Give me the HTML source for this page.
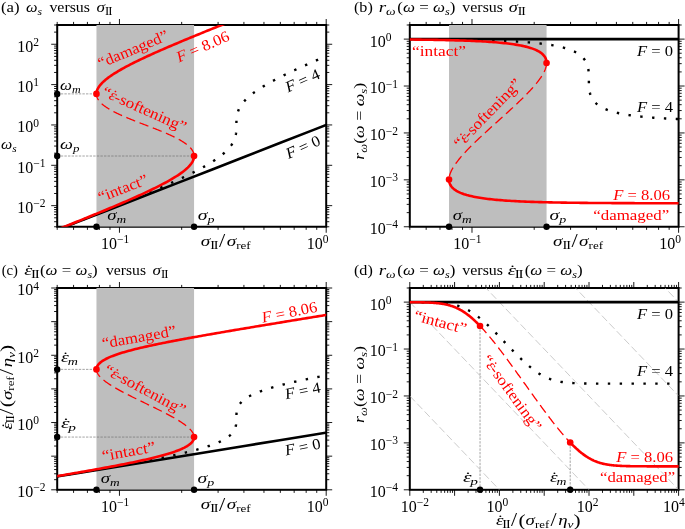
<!DOCTYPE html>
<html lang="en"><head><meta charset="utf-8"><title>Steady-state damage figure</title>
<style>html,body{margin:0;padding:0;background:#fff;}svg{display:block;}text{font-family:'Liberation Serif', 'DejaVu Serif', serif;}</style></head><body>
<svg width="685" height="529" viewBox="0 0 685 529">
<rect x="0" y="0" width="685" height="529" fill="#fff"/>
<defs>
<clipPath id="cla"><rect x="57.20" y="25.00" width="269.00" height="201.75"/></clipPath>
<clipPath id="clb"><rect x="409.80" y="25.00" width="268.80" height="201.75"/></clipPath>
<clipPath id="clc"><rect x="57.20" y="288.00" width="269.00" height="201.80"/></clipPath>
<clipPath id="cld"><rect x="409.80" y="288.00" width="268.80" height="201.80"/></clipPath>
</defs>
<path d="M119.44 226.75 v6.00 M119.44 25.00 v-6.00 M326.20 226.75 v6.00 M326.20 25.00 v-6.00 M57.20 226.75 v3.10 M57.20 25.00 v-3.10 M73.57 226.75 v3.10 M73.57 25.00 v-3.10 M87.41 226.75 v3.10 M87.41 25.00 v-3.10 M99.40 226.75 v3.10 M99.40 25.00 v-3.10 M109.98 226.75 v3.10 M109.98 25.00 v-3.10 M181.68 226.75 v3.10 M181.68 25.00 v-3.10 M218.09 226.75 v3.10 M218.09 25.00 v-3.10 M243.92 226.75 v3.10 M243.92 25.00 v-3.10 M263.96 226.75 v3.10 M263.96 25.00 v-3.10 M280.33 226.75 v3.10 M280.33 25.00 v-3.10 M294.17 226.75 v3.10 M294.17 25.00 v-3.10 M306.16 226.75 v3.10 M306.16 25.00 v-3.10 M316.74 226.75 v3.10 M316.74 25.00 v-3.10 M57.20 205.65 h-6.00 M326.20 205.65 h6.00 M57.20 165.30 h-6.00 M326.20 165.30 h6.00 M57.20 124.95 h-6.00 M326.20 124.95 h6.00 M57.20 84.60 h-6.00 M326.20 84.60 h6.00 M57.20 44.25 h-6.00 M326.20 44.25 h6.00 M57.20 226.75 h-3.10 M326.20 226.75 h3.10 M57.20 221.71 h-3.10 M326.20 221.71 h3.10 M57.20 217.80 h-3.10 M326.20 217.80 h3.10 M57.20 214.60 h-3.10 M326.20 214.60 h3.10 M57.20 211.90 h-3.10 M326.20 211.90 h3.10 M57.20 209.56 h-3.10 M326.20 209.56 h3.10 M57.20 207.50 h-3.10 M326.20 207.50 h3.10 M57.20 193.51 h-3.10 M326.20 193.51 h3.10 M57.20 186.40 h-3.10 M326.20 186.40 h3.10 M57.20 181.36 h-3.10 M326.20 181.36 h3.10 M57.20 177.45 h-3.10 M326.20 177.45 h3.10 M57.20 174.25 h-3.10 M326.20 174.25 h3.10 M57.20 171.55 h-3.10 M326.20 171.55 h3.10 M57.20 169.21 h-3.10 M326.20 169.21 h3.10 M57.20 167.15 h-3.10 M326.20 167.15 h3.10 M57.20 153.16 h-3.10 M326.20 153.16 h3.10 M57.20 146.05 h-3.10 M326.20 146.05 h3.10 M57.20 141.01 h-3.10 M326.20 141.01 h3.10 M57.20 137.10 h-3.10 M326.20 137.10 h3.10 M57.20 133.90 h-3.10 M326.20 133.90 h3.10 M57.20 131.20 h-3.10 M326.20 131.20 h3.10 M57.20 128.86 h-3.10 M326.20 128.86 h3.10 M57.20 126.80 h-3.10 M326.20 126.80 h3.10 M57.20 112.81 h-3.10 M326.20 112.81 h3.10 M57.20 105.70 h-3.10 M326.20 105.70 h3.10 M57.20 100.66 h-3.10 M326.20 100.66 h3.10 M57.20 96.75 h-3.10 M326.20 96.75 h3.10 M57.20 93.55 h-3.10 M326.20 93.55 h3.10 M57.20 90.85 h-3.10 M326.20 90.85 h3.10 M57.20 88.51 h-3.10 M326.20 88.51 h3.10 M57.20 86.45 h-3.10 M326.20 86.45 h3.10 M57.20 72.46 h-3.10 M326.20 72.46 h3.10 M57.20 65.35 h-3.10 M326.20 65.35 h3.10 M57.20 60.31 h-3.10 M326.20 60.31 h3.10 M57.20 56.40 h-3.10 M326.20 56.40 h3.10 M57.20 53.20 h-3.10 M326.20 53.20 h3.10 M57.20 50.50 h-3.10 M326.20 50.50 h3.10 M57.20 48.16 h-3.10 M326.20 48.16 h3.10 M57.20 46.10 h-3.10 M326.20 46.10 h3.10 M57.20 32.11 h-3.10 M326.20 32.11 h3.10 M57.20 25.00 h-3.10 M326.20 25.00 h3.10" stroke="#000" stroke-width="0.90" fill="none"/>
<rect x="57.20" y="25.00" width="269.00" height="201.75" fill="none" stroke="#000" stroke-width="2.00"/>
<path d="M471.99 226.75 v6.00 M471.99 25.00 v-6.00 M678.60 226.75 v6.00 M678.60 25.00 v-6.00 M409.80 226.75 v3.10 M409.80 25.00 v-3.10 M426.16 226.75 v3.10 M426.16 25.00 v-3.10 M439.99 226.75 v3.10 M439.99 25.00 v-3.10 M451.97 226.75 v3.10 M451.97 25.00 v-3.10 M462.54 226.75 v3.10 M462.54 25.00 v-3.10 M534.19 226.75 v3.10 M534.19 25.00 v-3.10 M570.57 226.75 v3.10 M570.57 25.00 v-3.10 M596.38 226.75 v3.10 M596.38 25.00 v-3.10 M616.41 226.75 v3.10 M616.41 25.00 v-3.10 M632.76 226.75 v3.10 M632.76 25.00 v-3.10 M646.60 226.75 v3.10 M646.60 25.00 v-3.10 M658.58 226.75 v3.10 M658.58 25.00 v-3.10 M669.15 226.75 v3.10 M669.15 25.00 v-3.10 M409.80 226.75 h-6.00 M678.60 226.75 h6.00 M409.80 179.84 h-6.00 M678.60 179.84 h6.00 M409.80 132.94 h-6.00 M678.60 132.94 h6.00 M409.80 86.03 h-6.00 M678.60 86.03 h6.00 M409.80 39.12 h-6.00 M678.60 39.12 h6.00 M409.80 212.63 h-3.10 M678.60 212.63 h3.10 M409.80 204.37 h-3.10 M678.60 204.37 h3.10 M409.80 198.51 h-3.10 M678.60 198.51 h3.10 M409.80 193.96 h-3.10 M678.60 193.96 h3.10 M409.80 190.25 h-3.10 M678.60 190.25 h3.10 M409.80 187.11 h-3.10 M678.60 187.11 h3.10 M409.80 184.39 h-3.10 M678.60 184.39 h3.10 M409.80 181.99 h-3.10 M678.60 181.99 h3.10 M409.80 165.72 h-3.10 M678.60 165.72 h3.10 M409.80 157.46 h-3.10 M678.60 157.46 h3.10 M409.80 151.60 h-3.10 M678.60 151.60 h3.10 M409.80 147.06 h-3.10 M678.60 147.06 h3.10 M409.80 143.34 h-3.10 M678.60 143.34 h3.10 M409.80 140.20 h-3.10 M678.60 140.20 h3.10 M409.80 137.48 h-3.10 M678.60 137.48 h3.10 M409.80 135.08 h-3.10 M678.60 135.08 h3.10 M409.80 118.81 h-3.10 M678.60 118.81 h3.10 M409.80 110.55 h-3.10 M678.60 110.55 h3.10 M409.80 104.69 h-3.10 M678.60 104.69 h3.10 M409.80 100.15 h-3.10 M678.60 100.15 h3.10 M409.80 96.43 h-3.10 M678.60 96.43 h3.10 M409.80 93.29 h-3.10 M678.60 93.29 h3.10 M409.80 90.57 h-3.10 M678.60 90.57 h3.10 M409.80 88.17 h-3.10 M678.60 88.17 h3.10 M409.80 71.91 h-3.10 M678.60 71.91 h3.10 M409.80 63.65 h-3.10 M678.60 63.65 h3.10 M409.80 57.79 h-3.10 M678.60 57.79 h3.10 M409.80 53.24 h-3.10 M678.60 53.24 h3.10 M409.80 49.53 h-3.10 M678.60 49.53 h3.10 M409.80 46.39 h-3.10 M678.60 46.39 h3.10 M409.80 43.67 h-3.10 M678.60 43.67 h3.10 M409.80 41.27 h-3.10 M678.60 41.27 h3.10 M409.80 25.00 h-3.10 M678.60 25.00 h3.10" stroke="#000" stroke-width="0.90" fill="none"/>
<rect x="409.80" y="25.00" width="268.80" height="201.75" fill="none" stroke="#000" stroke-width="2.00"/>
<path d="M119.44 489.80 v6.00 M119.44 288.00 v-6.00 M326.20 489.80 v6.00 M326.20 288.00 v-6.00 M57.20 489.80 v3.10 M57.20 288.00 v-3.10 M73.57 489.80 v3.10 M73.57 288.00 v-3.10 M87.41 489.80 v3.10 M87.41 288.00 v-3.10 M99.40 489.80 v3.10 M99.40 288.00 v-3.10 M109.98 489.80 v3.10 M109.98 288.00 v-3.10 M181.68 489.80 v3.10 M181.68 288.00 v-3.10 M218.09 489.80 v3.10 M218.09 288.00 v-3.10 M243.92 489.80 v3.10 M243.92 288.00 v-3.10 M263.96 489.80 v3.10 M263.96 288.00 v-3.10 M280.33 489.80 v3.10 M280.33 288.00 v-3.10 M294.17 489.80 v3.10 M294.17 288.00 v-3.10 M306.16 489.80 v3.10 M306.16 288.00 v-3.10 M316.74 489.80 v3.10 M316.74 288.00 v-3.10 M57.20 489.80 h-6.00 M326.20 489.80 h6.00 M57.20 456.17 h-6.00 M326.20 456.17 h6.00 M57.20 422.53 h-6.00 M326.20 422.53 h6.00 M57.20 388.90 h-6.00 M326.20 388.90 h6.00 M57.20 355.27 h-6.00 M326.20 355.27 h6.00 M57.20 321.63 h-6.00 M326.20 321.63 h6.00 M57.20 288.00 h-6.00 M326.20 288.00 h6.00 M57.20 479.68 h-3.10 M326.20 479.68 h3.10 M57.20 473.75 h-3.10 M326.20 473.75 h3.10 M57.20 469.55 h-3.10 M326.20 469.55 h3.10 M57.20 466.29 h-3.10 M326.20 466.29 h3.10 M57.20 463.63 h-3.10 M326.20 463.63 h3.10 M57.20 461.38 h-3.10 M326.20 461.38 h3.10 M57.20 459.43 h-3.10 M326.20 459.43 h3.10 M57.20 457.71 h-3.10 M326.20 457.71 h3.10 M57.20 446.04 h-3.10 M326.20 446.04 h3.10 M57.20 440.12 h-3.10 M326.20 440.12 h3.10 M57.20 435.92 h-3.10 M326.20 435.92 h3.10 M57.20 432.66 h-3.10 M326.20 432.66 h3.10 M57.20 429.99 h-3.10 M326.20 429.99 h3.10 M57.20 427.74 h-3.10 M326.20 427.74 h3.10 M57.20 425.79 h-3.10 M326.20 425.79 h3.10 M57.20 424.07 h-3.10 M326.20 424.07 h3.10 M57.20 412.41 h-3.10 M326.20 412.41 h3.10 M57.20 406.49 h-3.10 M326.20 406.49 h3.10 M57.20 402.28 h-3.10 M326.20 402.28 h3.10 M57.20 399.02 h-3.10 M326.20 399.02 h3.10 M57.20 396.36 h-3.10 M326.20 396.36 h3.10 M57.20 394.11 h-3.10 M326.20 394.11 h3.10 M57.20 392.16 h-3.10 M326.20 392.16 h3.10 M57.20 390.44 h-3.10 M326.20 390.44 h3.10 M57.20 378.78 h-3.10 M326.20 378.78 h3.10 M57.20 372.85 h-3.10 M326.20 372.85 h3.10 M57.20 368.65 h-3.10 M326.20 368.65 h3.10 M57.20 365.39 h-3.10 M326.20 365.39 h3.10 M57.20 362.73 h-3.10 M326.20 362.73 h3.10 M57.20 360.48 h-3.10 M326.20 360.48 h3.10 M57.20 358.53 h-3.10 M326.20 358.53 h3.10 M57.20 356.81 h-3.10 M326.20 356.81 h3.10 M57.20 345.14 h-3.10 M326.20 345.14 h3.10 M57.20 339.22 h-3.10 M326.20 339.22 h3.10 M57.20 335.02 h-3.10 M326.20 335.02 h3.10 M57.20 331.76 h-3.10 M326.20 331.76 h3.10 M57.20 329.09 h-3.10 M326.20 329.09 h3.10 M57.20 326.84 h-3.10 M326.20 326.84 h3.10 M57.20 324.89 h-3.10 M326.20 324.89 h3.10 M57.20 323.17 h-3.10 M326.20 323.17 h3.10 M57.20 311.51 h-3.10 M326.20 311.51 h3.10 M57.20 305.59 h-3.10 M326.20 305.59 h3.10 M57.20 301.38 h-3.10 M326.20 301.38 h3.10 M57.20 298.12 h-3.10 M326.20 298.12 h3.10 M57.20 295.46 h-3.10 M326.20 295.46 h3.10 M57.20 293.21 h-3.10 M326.20 293.21 h3.10 M57.20 291.26 h-3.10 M326.20 291.26 h3.10 M57.20 289.54 h-3.10 M326.20 289.54 h3.10" stroke="#000" stroke-width="0.90" fill="none"/>
<rect x="57.20" y="288.00" width="269.00" height="201.80" fill="none" stroke="#000" stroke-width="2.00"/>
<path d="M409.80 489.80 v6.00 M409.80 288.00 v-6.00 M454.60 489.80 v6.00 M454.60 288.00 v-6.00 M499.40 489.80 v6.00 M499.40 288.00 v-6.00 M544.20 489.80 v6.00 M544.20 288.00 v-6.00 M589.00 489.80 v6.00 M589.00 288.00 v-6.00 M633.80 489.80 v6.00 M633.80 288.00 v-6.00 M678.60 489.80 v6.00 M678.60 288.00 v-6.00 M423.29 489.80 v3.10 M423.29 288.00 v-3.10 M431.18 489.80 v3.10 M431.18 288.00 v-3.10 M436.77 489.80 v3.10 M436.77 288.00 v-3.10 M441.11 489.80 v3.10 M441.11 288.00 v-3.10 M444.66 489.80 v3.10 M444.66 288.00 v-3.10 M447.66 489.80 v3.10 M447.66 288.00 v-3.10 M450.26 489.80 v3.10 M450.26 288.00 v-3.10 M452.55 489.80 v3.10 M452.55 288.00 v-3.10 M468.09 489.80 v3.10 M468.09 288.00 v-3.10 M475.98 489.80 v3.10 M475.98 288.00 v-3.10 M481.57 489.80 v3.10 M481.57 288.00 v-3.10 M485.91 489.80 v3.10 M485.91 288.00 v-3.10 M489.46 489.80 v3.10 M489.46 288.00 v-3.10 M492.46 489.80 v3.10 M492.46 288.00 v-3.10 M495.06 489.80 v3.10 M495.06 288.00 v-3.10 M497.35 489.80 v3.10 M497.35 288.00 v-3.10 M512.89 489.80 v3.10 M512.89 288.00 v-3.10 M520.78 489.80 v3.10 M520.78 288.00 v-3.10 M526.37 489.80 v3.10 M526.37 288.00 v-3.10 M530.71 489.80 v3.10 M530.71 288.00 v-3.10 M534.26 489.80 v3.10 M534.26 288.00 v-3.10 M537.26 489.80 v3.10 M537.26 288.00 v-3.10 M539.86 489.80 v3.10 M539.86 288.00 v-3.10 M542.15 489.80 v3.10 M542.15 288.00 v-3.10 M557.69 489.80 v3.10 M557.69 288.00 v-3.10 M565.58 489.80 v3.10 M565.58 288.00 v-3.10 M571.17 489.80 v3.10 M571.17 288.00 v-3.10 M575.51 489.80 v3.10 M575.51 288.00 v-3.10 M579.06 489.80 v3.10 M579.06 288.00 v-3.10 M582.06 489.80 v3.10 M582.06 288.00 v-3.10 M584.66 489.80 v3.10 M584.66 288.00 v-3.10 M586.95 489.80 v3.10 M586.95 288.00 v-3.10 M602.49 489.80 v3.10 M602.49 288.00 v-3.10 M610.38 489.80 v3.10 M610.38 288.00 v-3.10 M615.97 489.80 v3.10 M615.97 288.00 v-3.10 M620.31 489.80 v3.10 M620.31 288.00 v-3.10 M623.86 489.80 v3.10 M623.86 288.00 v-3.10 M626.86 489.80 v3.10 M626.86 288.00 v-3.10 M629.46 489.80 v3.10 M629.46 288.00 v-3.10 M631.75 489.80 v3.10 M631.75 288.00 v-3.10 M647.29 489.80 v3.10 M647.29 288.00 v-3.10 M655.18 489.80 v3.10 M655.18 288.00 v-3.10 M660.77 489.80 v3.10 M660.77 288.00 v-3.10 M665.11 489.80 v3.10 M665.11 288.00 v-3.10 M668.66 489.80 v3.10 M668.66 288.00 v-3.10 M671.66 489.80 v3.10 M671.66 288.00 v-3.10 M674.26 489.80 v3.10 M674.26 288.00 v-3.10 M676.55 489.80 v3.10 M676.55 288.00 v-3.10 M409.80 489.80 h-6.00 M678.60 489.80 h6.00 M409.80 442.88 h-6.00 M678.60 442.88 h6.00 M409.80 395.96 h-6.00 M678.60 395.96 h6.00 M409.80 349.04 h-6.00 M678.60 349.04 h6.00 M409.80 302.12 h-6.00 M678.60 302.12 h6.00 M409.80 475.68 h-3.10 M678.60 475.68 h3.10 M409.80 467.41 h-3.10 M678.60 467.41 h3.10 M409.80 461.55 h-3.10 M678.60 461.55 h3.10 M409.80 457.01 h-3.10 M678.60 457.01 h3.10 M409.80 453.29 h-3.10 M678.60 453.29 h3.10 M409.80 450.15 h-3.10 M678.60 450.15 h3.10 M409.80 447.43 h-3.10 M678.60 447.43 h3.10 M409.80 445.03 h-3.10 M678.60 445.03 h3.10 M409.80 428.76 h-3.10 M678.60 428.76 h3.10 M409.80 420.49 h-3.10 M678.60 420.49 h3.10 M409.80 414.63 h-3.10 M678.60 414.63 h3.10 M409.80 410.09 h-3.10 M678.60 410.09 h3.10 M409.80 406.37 h-3.10 M678.60 406.37 h3.10 M409.80 403.23 h-3.10 M678.60 403.23 h3.10 M409.80 400.51 h-3.10 M678.60 400.51 h3.10 M409.80 398.11 h-3.10 M678.60 398.11 h3.10 M409.80 381.84 h-3.10 M678.60 381.84 h3.10 M409.80 373.58 h-3.10 M678.60 373.58 h3.10 M409.80 367.71 h-3.10 M678.60 367.71 h3.10 M409.80 363.17 h-3.10 M678.60 363.17 h3.10 M409.80 359.45 h-3.10 M678.60 359.45 h3.10 M409.80 356.31 h-3.10 M678.60 356.31 h3.10 M409.80 353.59 h-3.10 M678.60 353.59 h3.10 M409.80 351.19 h-3.10 M678.60 351.19 h3.10 M409.80 334.92 h-3.10 M678.60 334.92 h3.10 M409.80 326.66 h-3.10 M678.60 326.66 h3.10 M409.80 320.79 h-3.10 M678.60 320.79 h3.10 M409.80 316.25 h-3.10 M678.60 316.25 h3.10 M409.80 312.53 h-3.10 M678.60 312.53 h3.10 M409.80 309.39 h-3.10 M678.60 309.39 h3.10 M409.80 306.67 h-3.10 M678.60 306.67 h3.10 M409.80 304.27 h-3.10 M678.60 304.27 h3.10 M409.80 288.00 h-3.10 M678.60 288.00 h3.10" stroke="#000" stroke-width="0.90" fill="none"/>
<rect x="409.80" y="288.00" width="268.80" height="201.80" fill="none" stroke="#000" stroke-width="2.00"/>
<g clip-path="url(#cla)" fill="none" stroke-linejoin="round">
<rect x="96.46" y="25.00" width="97.60" height="201.75" fill="#bebebe"/>
<path d="M-294.08 367.05 L-260.32 353.88 L-226.56 340.70 L-192.81 327.53 L-159.05 314.35 L-125.29 301.17 L-91.54 288.00 L-57.78 274.82 L-24.02 261.65 L9.73 248.47 L43.49 235.30 L77.24 222.12 L111.00 208.95 L144.76 195.77 L178.51 182.59 L212.27 169.42 L246.03 156.24 L279.78 143.07 L313.54 129.89 L347.30 116.72 L381.05 103.54 L414.81 90.37 L448.57 77.19 L482.32 64.02 L516.08 50.84 L549.84 37.66 L583.59 24.49 L617.35 11.31 L651.11 -1.86 L684.86 -15.04 L718.62 -28.21 L752.38 -41.39 L786.13 -54.56 L819.89 -67.74 L853.65 -80.92 L887.40 -94.09 L921.16 -107.27 L954.92 -120.44 L988.67 -133.62 L1022.43 -146.79 L1056.19 -159.97 L1089.94 -173.14 L1123.70 -186.32 L1157.46 -199.50 L1191.21 -212.67 L1224.97 -225.85 L1258.73 -239.02 L1292.48 -252.20 L1326.24 -265.37 L1360.00 -278.55" stroke="#000" stroke-width="2.60"/>
<path d="M322.33 57.86 L321.41 58.25 L320.49 58.64 L319.57 59.04 L318.65 59.43 L317.74 59.82 L316.83 60.22 L315.92 60.61 L315.01 61.00 L314.11 61.39 L313.20 61.79 L312.30 62.18 L311.40 62.57 L310.51 62.96 L309.61 63.36 L308.72 63.75 L307.83 64.14 L306.95 64.53 L306.06 64.93 L305.18 65.32 L304.30 65.71 L303.42 66.10 L302.55 66.50 L301.68 66.89 L300.81 67.28 L299.95 67.67 L299.08 68.07 L298.22 68.46 L297.37 68.85 L296.51 69.24 L295.67 69.64 L294.82 70.03 L293.98 70.42 L293.14 70.81 L292.30 71.21 L291.47 71.60 L290.64 71.99 L289.81 72.39 L288.99 72.78 L288.17 73.17 L287.36 73.56 L286.54 73.96 L285.74 74.35 L284.93 74.74 L284.14 75.13 L283.34 75.53 L282.55 75.92 L281.77 76.31 L280.98 76.70 L280.21 77.10 L279.43 77.49 L278.67 77.88 L277.90 78.27 L277.15 78.67 L276.39 79.06 L275.64 79.45 L274.90 79.84 L274.16 80.24 L273.43 80.63 L272.70 81.02 L271.98 81.41 L271.26 81.81 L270.55 82.20 L269.84 82.59 L269.14 82.98 L268.45 83.38 L267.76 83.77 L267.07 84.16 L266.40 84.56 L265.73 84.95 L265.06 85.34 L264.40 85.73 L263.75 86.13 L263.10 86.52 L262.47 86.91 L261.83 87.30 L261.21 87.70 L260.59 88.09 L259.98 88.48 L259.37 88.87 L258.77 89.27 L258.18 89.66 L257.60 90.05 L257.02 90.44 L256.45 90.84 L255.89 91.23 L255.33 91.62 L254.78 92.01 L254.24 92.41 L253.71 92.80 L253.19 93.19 L252.67 93.58 L252.16 93.98 L251.66 94.37 L251.17 94.76 L250.68 95.15 L250.21 95.55 L249.74 95.94 L249.28 96.33 L248.83 96.73 L248.39 97.12 L247.95 97.51 L247.52 97.90 L247.11 98.30 L246.70 98.69 L246.29 99.08 L245.90 99.47 L245.52 99.87 L245.14 100.26 L244.78 100.65 L244.42 101.04 L244.07 101.44 L243.73 101.83 L243.40 102.22 L243.07 102.61 L242.76 103.01 L242.45 103.40 L242.16 103.79 L241.87 104.18 L241.59 104.58 L241.32 104.97 L241.05 105.36 L240.80 105.75 L240.55 106.15 L240.31 106.54 L240.09 106.93 L239.86 107.32 L239.65 107.72 L239.45 108.11 L239.25 108.50 L239.06 108.90 L238.88 109.29 L238.71 109.68 L238.54 110.07 L238.38 110.47 L238.23 110.86 L238.09 111.25 L237.96 111.64 L237.83 112.04 L237.70 112.43 L237.59 112.82 L237.48 113.21 L237.38 113.61 L237.28 114.00 L237.20 114.39 L237.11 114.78 L237.04 115.18 L236.96 115.57 L236.90 115.96 L236.84 116.35 L236.78 116.75 L236.73 117.14 L236.68 117.53 L236.64 117.92 L236.61 118.32 L236.57 118.71 L236.54 119.10 L236.52 119.49 L236.50 119.89 L236.48 120.28 L236.46 120.67 L236.45 121.07 L236.44 121.46 L236.43 121.85 L236.42 122.24 L236.41 122.64 L236.41 123.03 L236.41 123.42 L236.41 123.81 L236.41 124.21 L236.41 124.60 L236.41 124.99 L236.41 125.38 L236.41 125.78 L236.40 126.17 L236.40 126.56 L236.40 126.95 L236.40 127.35 L236.39 127.74 L236.38 128.13 L236.37 128.52 L236.36 128.92 L236.35 129.31 L236.33 129.70 L236.31 130.09 L236.29 130.49 L236.26 130.88 L236.23 131.27 L236.20 131.66 L236.16 132.06 L236.12 132.45 L236.07 132.84 L236.02 133.24 L235.96 133.63 L235.90 134.02 L235.83 134.41 L235.76 134.81 L235.68 135.20 L235.60 135.59 L235.51 135.98 L235.41 136.38 L235.31 136.77 L235.20 137.16 L235.08 137.55 L234.96 137.95 L234.83 138.34 L234.69 138.73 L234.55 139.12 L234.40 139.52 L234.24 139.91 L234.07 140.30 L233.90 140.69 L233.71 141.09 L233.52 141.48 L233.32 141.87 L233.12 142.26 L232.90 142.66 L232.68 143.05 L232.45 143.44 L232.21 143.83 L231.96 144.23 L231.71 144.62 L231.44 145.01 L231.17 145.41 L230.89 145.80 L230.60 146.19 L230.30 146.58 L229.99 146.98 L229.67 147.37 L229.35 147.76 L229.01 148.15 L228.67 148.55 L228.32 148.94 L227.96 149.33 L227.59 149.72 L227.22 150.12 L226.83 150.51 L226.44 150.90 L226.03 151.29 L225.62 151.69 L225.20 152.08 L224.77 152.47 L224.34 152.86 L223.89 153.26 L223.44 153.65 L222.98 154.04 L222.51 154.43 L222.03 154.83 L221.54 155.22 L221.05 155.61 L220.55 156.00 L220.04 156.40 L219.52 156.79 L218.99 157.18 L218.46 157.58 L217.92 157.97 L217.37 158.36 L216.81 158.75 L216.25 159.15 L215.68 159.54 L215.10 159.93 L214.51 160.32 L213.92 160.72 L213.32 161.11 L212.71 161.50 L212.10 161.89 L211.48 162.29 L210.85 162.68 L210.22 163.07 L209.58 163.46 L208.93 163.86 L208.28 164.25 L207.62 164.64 L206.95 165.03 L206.28 165.43 L205.60 165.82 L204.92 166.21 L204.23 166.60 L203.53 167.00 L202.83 167.39 L202.12 167.78 L201.41 168.17 L200.69 168.57 L199.97 168.96 L199.24 169.35 L198.50 169.75 L197.76 170.14 L197.02 170.53 L196.27 170.92 L195.51 171.32 L194.76 171.71 L193.99 172.10 L193.22 172.49 L192.45 172.89 L191.67 173.28 L190.89 173.67 L190.10 174.06 L189.31 174.46 L188.52 174.85 L187.72 175.24 L186.91 175.63 L186.11 176.03 L185.29 176.42 L184.48 176.81 L183.66 177.20 L182.84 177.60 L182.01 177.99 L181.18 178.38 L180.35 178.77 L179.51 179.17 L178.67 179.56 L177.82 179.95 L176.98 180.35 L176.13 180.74 L175.27 181.13 L174.42 181.52 L173.56 181.92 L172.69 182.31 L171.83 182.70 L170.96 183.09 L170.09 183.49 L169.21 183.88 L168.34 184.27 L167.46 184.66 L166.57 185.06 L165.69 185.45 L164.80 185.84 L163.91 186.23 L163.02 186.63 L162.13 187.02 L161.23 187.41 L160.33 187.80 L159.43 188.20 L158.52 188.59 L157.62 188.98 L156.71 189.37 L155.80 189.77 L154.89 190.16 L153.97 190.55 L153.06 190.94 L152.14 191.34 L151.22 191.73 L150.30 192.12 L149.38 192.52 L148.45 192.91 L147.52 193.30 L146.60 193.69 L145.67 194.09 L144.73 194.48 L143.80 194.87 L142.87 195.26 L141.93 195.66 L140.99 196.05 L140.05 196.44 L139.11 196.83 L138.17 197.23 L137.23 197.62 L136.28 198.01 L135.34 198.40 L134.39 198.80 L133.44 199.19 L132.49 199.58 L131.54 199.97 L130.59 200.37 L129.63 200.76 L128.68 201.15 L127.72 201.54 L126.77 201.94 L125.81 202.33 L124.85 202.72 L123.89 203.11 L122.93 203.51 L121.97 203.90 L121.00 204.29 L120.04 204.69 L119.08 205.08 L118.11 205.47 L117.14 205.86 L116.18 206.26 L115.21 206.65 L114.24 207.04 L113.27 207.43 L112.30 207.83 L111.33 208.22 L110.36 208.61 L109.38 209.00 L108.41 209.40 L107.43 209.79 L106.46 210.18 L105.48 210.57 L104.51 210.97 L103.53 211.36 L102.55 211.75 L101.58 212.14 L100.60 212.54 L99.62 212.93 L98.64 213.32 L97.66 213.71 L96.68 214.11 L95.69 214.50 L94.71 214.89 L93.73 215.28 L92.75 215.68 L91.76 216.07 L90.78 216.46 L89.79 216.86 L88.81 217.25 L87.82 217.64 L86.84 218.03 L85.85 218.43 L84.86 218.82 L83.88 219.21 L82.89 219.60 L81.90 220.00 L80.91 220.39 L79.92 220.78 L78.94 221.17 L77.95 221.57 L76.96 221.96 L75.97 222.35 L74.98 222.74 L73.98 223.14 L72.99 223.53 L72.00 223.92 L71.01 224.31 L70.02 224.71 L69.02 225.10 L68.03 225.49 L67.04 225.88 L66.05 226.28 L65.05 226.67 L64.06 227.06 L63.06 227.45 L62.07 227.85 L61.07 228.24 L60.08 228.63 L59.08 229.03 L58.09 229.42 L57.09 229.81 L56.10 230.20 L55.10 230.60 L54.11 230.99 L53.11 231.38 L52.11 231.77 L51.12 232.17 L50.12 232.56 L49.12 232.95 L48.12 233.34 L47.13 233.74 L46.13 234.13 L45.13 234.52 L44.13 234.91 L43.13 235.31 L42.13 235.70 L41.14 236.09 L40.14 236.48 L39.14 236.88 L38.14 237.27 L37.14 237.66 L36.14 238.05 L35.14 238.45 L34.14 238.84 L33.14 239.23 L32.14 239.62 L31.14 240.02 L30.14 240.41 L29.14 240.80 L28.14 241.20 L27.14 241.59 L26.14 241.98 L25.14 242.37 L24.14 242.77 L23.14 243.16 L22.13 243.55 L21.13 243.94 L20.13 244.34 L19.13 244.73 L18.13 245.12 L17.13 245.51 L16.13 245.91 L15.12 246.30 L14.12 246.69 L13.12 247.08 L12.12 247.48 L11.12 247.87 L10.11 248.26 L9.11 248.65 L8.11 249.05 L7.11 249.44 L6.10 249.83 L5.10 250.22 L4.10 250.62 L3.10 251.01 L2.09 251.40 L1.09 251.79 L0.09 252.19 L-0.92 252.58 L-1.92 252.97 L-2.92 253.37 L-3.93 253.76 L-4.73 254.07" stroke="#000" stroke-width="2.40" stroke-dasharray="2.40 9.46" stroke-dashoffset="7.28"/>
<path d="M-294.08 367.05 L-291.61 366.09 L-289.14 365.12 L-286.67 364.16 L-284.20 363.20 L-281.73 362.23 L-279.27 361.27 L-276.80 360.31 L-274.33 359.34 L-271.86 358.38 L-269.39 357.42 L-266.92 356.45 L-264.45 355.49 L-261.98 354.53 L-259.52 353.56 L-257.05 352.60 L-254.58 351.63 L-252.11 350.67 L-249.64 349.71 L-247.17 348.74 L-244.70 347.78 L-242.23 346.82 L-239.77 345.85 L-237.30 344.89 L-234.83 343.93 L-232.36 342.96 L-229.89 342.00 L-227.42 341.04 L-224.95 340.07 L-222.49 339.11 L-220.02 338.14 L-217.55 337.18 L-215.08 336.22 L-212.61 335.25 L-210.14 334.29 L-207.67 333.33 L-205.20 332.36 L-202.74 331.40 L-200.27 330.44 L-197.80 329.47 L-195.33 328.51 L-192.86 327.54 L-190.39 326.58 L-187.92 325.62 L-185.46 324.65 L-182.99 323.69 L-180.52 322.73 L-178.05 321.76 L-175.58 320.80 L-173.11 319.84 L-170.64 318.87 L-168.18 317.91 L-165.71 316.95 L-163.24 315.98 L-160.77 315.02 L-158.30 314.05 L-155.83 313.09 L-153.37 312.13 L-150.90 311.16 L-148.43 310.20 L-145.96 309.24 L-143.49 308.27 L-141.02 307.31 L-138.56 306.35 L-136.09 305.38 L-133.62 304.42 L-131.15 303.46 L-128.68 302.49 L-126.22 301.53 L-123.75 300.56 L-121.28 299.60 L-118.81 298.64 L-116.34 297.67 L-113.88 296.71 L-111.41 295.75 L-108.94 294.78 L-106.47 293.82 L-104.01 292.86 L-101.54 291.89 L-99.07 290.93 L-96.61 289.97 L-94.14 289.00 L-91.67 288.04 L-89.20 287.07 L-86.74 286.11 L-84.27 285.15 L-81.80 284.18 L-79.34 283.22 L-76.87 282.26 L-74.41 281.29 L-71.94 280.33 L-69.47 279.37 L-67.01 278.40 L-64.54 277.44 L-62.08 276.47 L-59.61 275.51 L-57.15 274.55 L-54.68 273.58 L-52.22 272.62 L-49.75 271.66 L-47.29 270.69 L-44.82 269.73 L-42.36 268.77 L-39.90 267.80 L-37.44 266.84 L-34.97 265.88 L-32.51 264.91 L-30.05 263.95 L-27.59 262.98 L-25.13 262.02 L-22.67 261.06 L-20.21 260.09 L-17.75 259.13 L-15.29 258.17 L-12.83 257.20 L-10.37 256.24 L-7.91 255.28 L-5.46 254.31 L-3.00 253.35 L-0.54 252.39 L1.91 251.42 L4.36 250.46 L6.82 249.49 L9.27 248.53 L11.72 247.57 L14.17 246.60 L16.62 245.64 L19.07 244.68 L21.51 243.71 L23.96 242.75 L26.40 241.79 L28.85 240.82 L31.29 239.86 L33.73 238.90 L36.17 237.93 L38.60 236.97 L41.04 236.00 L43.47 235.04 L45.90 234.08 L48.33 233.11 L50.75 232.15 L53.18 231.19 L55.60 230.22 L58.02 229.26 L60.43 228.30 L62.85 227.33 L65.26 226.37 L67.66 225.40 L70.07 224.44 L72.47 223.48 L74.86 222.51 L77.25 221.55 L79.64 220.59 L82.02 219.62 L84.40 218.66 L86.77 217.70 L89.14 216.73 L91.50 215.77 L93.86 214.81 L96.20 213.84 L98.55 212.88 L100.88 211.91 L103.21 210.95 L105.53 209.99 L107.84 209.02 L110.14 208.06 L112.44 207.10 L114.72 206.13 L116.99 205.17 L119.26 204.21 L121.51 203.24 L123.75 202.28 L125.98 201.32 L128.19 200.35 L130.39 199.39 L132.57 198.42 L134.74 197.46 L136.90 196.50 L139.03 195.53 L141.15 194.57 L143.25 193.61 L145.32 192.64 L147.38 191.68 L149.42 190.72 L151.43 189.75 L153.41 188.79 L155.38 187.82 L157.31 186.86 L159.21 185.90 L161.09 184.93 L162.93 183.97 L164.75 183.01 L166.52 182.04 L168.26 181.08 L169.97 180.12 L171.63 179.15 L173.25 178.19 L174.83 177.23 L176.36 176.26 L177.85 175.30 L179.28 174.33 L180.67 173.37 L182.00 172.41 L183.27 171.44 L184.49 170.48 L185.64 169.52 L186.74 168.55 L187.76 167.59 L188.72 166.63 L189.61 165.66 L190.42 164.70 L191.16 163.74 L191.82 162.77 L192.41 161.81 L192.90 160.84 L193.32 159.88 L193.64 158.92 L193.87 157.95 L194.02 156.99 L194.06 156.03" stroke="#ff0000" stroke-width="2.60"/>
<path d="M96.46 93.88 L96.50 93.04 L96.61 92.20 L96.79 91.35 L97.04 90.51 L97.35 89.67 L97.73 88.83 L98.18 87.99 L98.69 87.15 L99.26 86.31 L99.89 85.47 L100.58 84.63 L101.33 83.79 L102.13 82.95 L102.98 82.11 L103.88 81.27 L104.84 80.43 L105.84 79.58 L106.89 78.74 L107.98 77.90 L109.12 77.06 L110.30 76.22 L111.52 75.38 L112.78 74.54 L114.08 73.70 L115.41 72.86 L116.78 72.02 L118.18 71.18 L119.61 70.34 L121.07 69.50 L122.57 68.66 L124.09 67.81 L125.64 66.97 L127.21 66.13 L128.82 65.29 L130.44 64.45 L132.09 63.61 L133.76 62.77 L135.45 61.93 L137.17 61.09 L138.90 60.25 L140.65 59.41 L142.42 58.57 L144.21 57.73 L146.01 56.89 L147.83 56.04 L149.66 55.20 L151.51 54.36 L153.38 53.52 L155.25 52.68 L157.14 51.84 L159.04 51.00 L160.95 50.16 L162.87 49.32 L164.81 48.48 L166.75 47.64 L168.70 46.80 L170.67 45.96 L172.64 45.12 L174.62 44.27 L176.60 43.43 L178.60 42.59 L180.60 41.75 L182.61 40.91 L184.63 40.07 L186.65 39.23 L188.68 38.39 L190.71 37.55 L192.75 36.71 L194.80 35.87 L196.85 35.03 L198.90 34.19 L200.96 33.35 L203.03 32.50 L205.10 31.66 L207.17 30.82 L209.24 29.98 L211.32 29.14 L213.41 28.30 L215.49 27.46 L217.58 26.62 L219.67 25.78 L221.77 24.94 L223.87 24.10 L225.97 23.26 L228.07 22.42 L230.18 21.58 L232.28 20.73 L234.39 19.89 L236.51 19.05 L238.62 18.21 L240.74 17.37 L242.85 16.53 L244.97 15.69 L247.09 14.85 L249.22 14.01 L251.34 13.17 L253.47 12.33 L255.59 11.49 L257.72 10.65 L259.85 9.81 L261.98 8.96 L264.11 8.12 L266.24 7.28 L268.38 6.44 L270.51 5.60 L272.65 4.76 L274.78 3.92 L276.92 3.08 L279.06 2.24 L281.20 1.40 L283.34 0.56 L285.48 -0.28 L287.62 -1.12 L289.76 -1.97 L291.90 -2.81 L294.04 -3.65 L296.18 -4.49 L298.33 -5.33 L300.47 -6.17 L302.62 -7.01 L304.76 -7.85 L306.91 -8.69 L309.05 -9.53 L311.20 -10.37 L313.35 -11.21 L315.49 -12.05 L317.64 -12.89 L319.79 -13.74 L321.93 -14.58 L324.08 -15.42 L326.23 -16.26 L328.38 -17.10 L330.53 -17.94 L332.68 -18.78 L334.83 -19.62 L336.98 -20.46 L339.13 -21.30 L341.28 -22.14 L343.43 -22.98 L345.58 -23.82 L347.73 -24.66 L349.88 -25.51 L352.03 -26.35 L354.18 -27.19 L356.33 -28.03 L358.48 -28.87 L360.63 -29.71 L362.78 -30.55 L364.94 -31.39 L367.09 -32.23 L369.24 -33.07 L371.39 -33.91 L373.54 -34.75 L375.70 -35.59 L377.85 -36.43 L380.00 -37.28 L382.15 -38.12 L384.31 -38.96 L386.46 -39.80 L388.61 -40.64 L390.76 -41.48 L392.92 -42.32 L395.07 -43.16 L397.22 -44.00 L399.37 -44.84 L401.53 -45.68 L403.68 -46.52 L405.83 -47.36 L407.99 -48.20 L410.14 -49.05 L412.29 -49.89 L414.45 -50.73 L416.60 -51.57 L418.75 -52.41 L420.91 -53.25 L423.06 -54.09 L425.21 -54.93 L427.37 -55.77 L429.52 -56.61 L431.67 -57.45 L433.83 -58.29 L435.98 -59.13 L438.13 -59.97 L440.29 -60.82 L442.44 -61.66 L444.59 -62.50 L446.75 -63.34 L448.90 -64.18 L451.05 -65.02 L453.21 -65.86 L455.36 -66.70 L457.52 -67.54 L459.67 -68.38 L461.82 -69.22 L463.98 -70.06 L466.13 -70.90 L468.28 -71.74 L470.44 -72.59 L472.59 -73.43 L474.75 -74.27 L476.90 -75.11 L479.05 -75.95 L481.21 -76.79 L483.36 -77.63 L485.51 -78.47 L487.67 -79.31 L489.82 -80.15 L491.98 -80.99 L494.13 -81.83 L496.28 -82.67 L498.44 -83.51 L500.59 -84.36 L502.75 -85.20 L504.90 -86.04 L507.05 -86.88 L509.21 -87.72 L511.36 -88.56 L513.51 -89.40 L515.67 -90.24 L517.82 -91.08 L519.98 -91.92 L522.13 -92.76 L524.28 -93.60 L526.44 -94.44 L528.59 -95.28 L530.75 -96.13 L532.90 -96.97 L535.05 -97.81 L537.21 -98.65 L539.36 -99.49 L541.52 -100.33 L543.67 -101.17 L545.82 -102.01 L547.98 -102.85 L550.13 -103.69 L552.29 -104.53 L554.44 -105.37 L556.59 -106.21 L558.75 -107.05 L560.90 -107.90 L563.06 -108.74 L565.21 -109.58 L567.36 -110.42 L569.52 -111.26 L571.67 -112.10 L573.83 -112.94 L575.98 -113.78 L578.13 -114.62 L580.29 -115.46 L582.44 -116.30 L584.60 -117.14 L586.75 -117.98 L588.90 -118.83 L591.06 -119.67 L593.21 -120.51 L595.36 -121.35 L597.52 -122.19 L599.67 -123.03 L601.83 -123.87 L603.98 -124.71 L606.13 -125.55 L608.29 -126.39 L610.44 -127.23 L612.60 -128.07 L614.75 -128.91 L616.90 -129.75 L619.06 -130.60 L621.21 -131.44 L623.37 -132.28 L625.52 -133.12 L627.67 -133.96 L629.83 -134.80 L631.98 -135.64 L634.14 -136.48 L636.29 -137.32 L638.44 -138.16 L640.60 -139.00 L642.75 -139.84 L644.91 -140.68 L647.06 -141.52 L649.21 -142.37 L651.37 -143.21 L653.52 -144.05 L655.68 -144.89 L657.83 -145.73 L659.98 -146.57 L662.14 -147.41 L664.29 -148.25 L666.45 -149.09 L668.60 -149.93 L670.75 -150.77 L672.91 -151.61 L675.06 -152.45 L677.22 -153.29 L679.37 -154.14 L681.52 -154.98 L683.68 -155.82 L685.83 -156.66 L687.99 -157.50" stroke="#ff0000" stroke-width="2.60"/>
<path d="M194.06 156.03 L194.06 155.61 L194.03 155.19 L193.98 154.78 L193.92 154.36 L193.84 153.94 L193.73 153.52 L193.61 153.11 L193.47 152.69 L193.32 152.27 L193.14 151.86 L192.94 151.44 L192.73 151.02 L192.49 150.60 L192.23 150.19 L191.96 149.77 L191.66 149.35 L191.35 148.94 L191.02 148.52 L190.66 148.10 L190.29 147.68 L189.90 147.27 L189.48 146.85 L189.05 146.43 L188.60 146.02 L188.13 145.60 L187.64 145.18 L187.12 144.76 L186.59 144.35 L186.05 143.93 L185.48 143.51 L184.89 143.10 L184.28 142.68 L183.66 142.26 L183.01 141.84 L182.35 141.43 L181.67 141.01 L180.97 140.59 L180.26 140.18 L179.53 139.76 L178.78 139.34 L178.01 138.93 L177.22 138.51 L176.42 138.09 L175.61 137.67 L174.78 137.26 L173.93 136.84 L173.07 136.42 L172.19 136.01 L171.30 135.59 L170.39 135.17 L169.48 134.75 L168.54 134.34 L167.60 133.92 L166.65 133.50 L165.68 133.09 L164.70 132.67 L163.71 132.25 L162.71 131.83 L161.70 131.42 L160.69 131.00 L159.66 130.58 L158.63 130.17 L157.58 129.75 L156.54 129.33 L155.48 128.91 L154.42 128.50 L153.36 128.08 L152.29 127.66 L151.21 127.25 L150.14 126.83 L149.06 126.41 L147.97 125.99 L146.89 125.58 L145.81 125.16 L144.72 124.74 L143.64 124.33 L142.55 123.91 L141.47 123.49 L140.39 123.07 L139.32 122.66 L138.24 122.24 L137.17 121.82 L136.11 121.41 L135.05 120.99 L133.99 120.57 L132.94 120.16 L131.90 119.74 L130.87 119.32 L129.84 118.90 L128.82 118.49 L127.82 118.07 L126.82 117.65 L125.83 117.24 L124.85 116.82 L123.88 116.40 L122.93 115.98 L121.98 115.57 L121.05 115.15 L120.14 114.73 L119.23 114.32 L118.34 113.90 L117.46 113.48 L116.60 113.06 L115.75 112.65 L114.92 112.23 L114.10 111.81 L113.30 111.40 L112.52 110.98 L111.75 110.56 L111.00 110.14 L110.27 109.73 L109.55 109.31 L108.86 108.89 L108.18 108.48 L107.51 108.06 L106.87 107.64 L106.25 107.22 L105.64 106.81 L105.05 106.39 L104.48 105.97 L103.93 105.56 L103.40 105.14 L102.89 104.72 L102.40 104.30 L101.93 103.89 L101.48 103.47 L101.05 103.05 L100.63 102.64 L100.24 102.22 L99.87 101.80 L99.51 101.39 L99.18 100.97 L98.86 100.55 L98.57 100.13 L98.29 99.72 L98.04 99.30 L97.80 98.88 L97.59 98.47 L97.39 98.05 L97.21 97.63 L97.05 97.21 L96.91 96.80 L96.79 96.38 L96.69 95.96 L96.61 95.55 L96.55 95.13 L96.50 94.71 L96.47 94.29 L96.46 93.88" stroke="#ff0000" stroke-width="1.3" stroke-dasharray="9.5 4.7"/>
</g>
<g clip-path="url(#clb)" fill="none" stroke-linejoin="round">
<rect x="449.03" y="25.00" width="97.53" height="201.75" fill="#bebebe"/>
<path d="M58.78 39.12 L92.51 39.12 L126.25 39.12 L159.98 39.12 L193.71 39.12 L227.44 39.12 L261.17 39.12 L294.90 39.12 L328.64 39.12 L362.37 39.12 L396.10 39.12 L429.83 39.12 L463.56 39.12 L497.29 39.12 L531.02 39.12 L564.76 39.12 L598.49 39.12 L632.22 39.12 L665.95 39.12 L699.68 39.12 L733.41 39.12 L767.15 39.12 L800.88 39.12 L834.61 39.12 L868.34 39.12 L902.07 39.12 L935.80 39.12 L969.53 39.12 L1003.27 39.12 L1037.00 39.12 L1070.73 39.12 L1104.46 39.12 L1138.19 39.12 L1171.92 39.12 L1205.65 39.12 L1239.39 39.12 L1273.12 39.12 L1306.85 39.12 L1340.58 39.12 L1374.31 39.12 L1408.04 39.12 L1441.78 39.12 L1475.51 39.12 L1509.24 39.12 L1542.97 39.12 L1576.70 39.12 L1610.43 39.12 L1644.16 39.12 L1677.90 39.12 L1711.63 39.12" stroke="#000" stroke-width="2.60"/>
<path d="M727.54 120.10 L726.45 120.08 L725.36 120.07 L724.27 120.06 L723.19 120.04 L722.10 120.03 L721.02 120.01 L719.94 120.00 L718.85 119.98 L717.77 119.97 L716.69 119.95 L715.61 119.94 L714.53 119.92 L713.45 119.90 L712.38 119.89 L711.30 119.87 L710.22 119.85 L709.15 119.83 L708.08 119.81 L707.00 119.79 L705.93 119.77 L704.86 119.75 L703.79 119.73 L702.72 119.71 L701.66 119.68 L700.59 119.66 L699.53 119.64 L698.47 119.61 L697.40 119.59 L696.34 119.56 L695.28 119.54 L694.23 119.51 L693.17 119.48 L692.12 119.45 L691.06 119.43 L690.01 119.40 L688.96 119.37 L687.91 119.34 L686.87 119.30 L685.82 119.27 L684.78 119.24 L683.74 119.21 L682.70 119.17 L681.66 119.14 L680.62 119.10 L679.59 119.06 L678.56 119.02 L677.53 118.98 L676.50 118.94 L675.47 118.90 L674.45 118.86 L673.43 118.82 L672.41 118.77 L671.39 118.73 L670.38 118.68 L669.37 118.64 L668.36 118.59 L667.35 118.54 L666.34 118.49 L665.34 118.44 L664.34 118.38 L663.35 118.33 L662.35 118.27 L661.36 118.21 L660.38 118.16 L659.39 118.10 L658.41 118.04 L657.43 117.97 L656.46 117.91 L655.49 117.84 L654.52 117.78 L653.55 117.71 L652.59 117.64 L651.64 117.56 L650.68 117.49 L649.73 117.42 L648.79 117.34 L647.84 117.26 L646.91 117.18 L645.97 117.10 L645.04 117.01 L644.12 116.92 L643.19 116.84 L642.28 116.75 L641.36 116.65 L640.46 116.56 L639.55 116.46 L638.66 116.36 L637.76 116.26 L636.87 116.16 L635.99 116.05 L635.11 115.94 L634.24 115.83 L633.37 115.72 L632.51 115.60 L631.66 115.49 L630.81 115.37 L629.96 115.24 L629.12 115.12 L628.29 114.99 L627.46 114.86 L626.64 114.72 L625.83 114.58 L625.02 114.44 L624.22 114.30 L623.43 114.15 L622.64 114.01 L621.86 113.85 L621.09 113.70 L620.32 113.54 L619.56 113.38 L618.81 113.21 L618.07 113.04 L617.33 112.87 L616.60 112.69 L615.88 112.51 L615.17 112.33 L614.46 112.14 L613.77 111.95 L613.08 111.76 L612.40 111.56 L611.73 111.36 L611.07 111.15 L610.41 110.94 L609.77 110.73 L609.13 110.51 L608.50 110.29 L607.89 110.06 L607.28 109.83 L606.68 109.60 L606.09 109.36 L605.51 109.11 L604.94 108.87 L604.38 108.61 L603.83 108.36 L603.29 108.10 L602.76 107.83 L602.24 107.56 L601.72 107.29 L601.22 107.01 L600.73 106.72 L600.25 106.43 L599.78 106.14 L599.33 105.84 L598.88 105.54 L598.44 105.23 L598.01 104.92 L597.60 104.60 L597.19 104.28 L596.79 103.95 L596.41 103.62 L596.04 103.28 L595.67 102.94 L595.32 102.59 L594.98 102.24 L594.65 101.88 L594.33 101.52 L594.02 101.16 L593.72 100.79 L593.43 100.41 L593.15 100.03 L592.88 99.65 L592.62 99.26 L592.37 98.86 L592.14 98.46 L591.91 98.06 L591.69 97.65 L591.48 97.24 L591.29 96.82 L591.10 96.40 L590.92 95.97 L590.75 95.55 L590.59 95.11 L590.43 94.67 L590.29 94.23 L590.16 93.79 L590.03 93.34 L589.91 92.88 L589.80 92.43 L589.70 91.97 L589.61 91.50 L589.52 91.04 L589.44 90.57 L589.36 90.09 L589.30 89.62 L589.24 89.14 L589.18 88.65 L589.13 88.17 L589.09 87.68 L589.05 87.19 L589.02 86.70 L588.99 86.21 L588.96 85.71 L588.94 85.22 L588.92 84.72 L588.91 84.22 L588.90 83.72 L588.89 83.21 L588.88 82.71 L588.88 82.20 L588.88 81.70 L588.87 81.19 L588.87 80.69 L588.87 80.18 L588.87 79.67 L588.87 79.17 L588.87 78.66 L588.87 78.15 L588.87 77.65 L588.86 77.14 L588.86 76.64 L588.85 76.14 L588.84 75.63 L588.83 75.13 L588.81 74.63 L588.79 74.14 L588.76 73.64 L588.74 73.15 L588.70 72.65 L588.67 72.16 L588.62 71.68 L588.58 71.19 L588.52 70.71 L588.46 70.23 L588.40 69.75 L588.33 69.28 L588.25 68.81 L588.16 68.34 L588.07 67.87 L587.97 67.41 L587.86 66.96 L587.74 66.50 L587.62 66.05 L587.49 65.60 L587.35 65.16 L587.20 64.72 L587.04 64.29 L586.87 63.86 L586.69 63.43 L586.51 63.01 L586.31 62.59 L586.11 62.18 L585.89 61.77 L585.66 61.36 L585.43 60.96 L585.18 60.57 L584.93 60.18 L584.66 59.79 L584.39 59.41 L584.10 59.03 L583.80 58.66 L583.50 58.29 L583.18 57.93 L582.85 57.57 L582.51 57.22 L582.16 56.87 L581.80 56.53 L581.43 56.19 L581.05 55.86 L580.65 55.53 L580.25 55.21 L579.84 54.89 L579.41 54.57 L578.98 54.26 L578.53 53.96 L578.07 53.66 L577.61 53.37 L577.13 53.08 L576.64 52.79 L576.14 52.51 L575.64 52.23 L575.12 51.96 L574.59 51.70 L574.05 51.43 L573.50 51.18 L572.94 50.92 L572.38 50.67 L571.80 50.43 L571.21 50.19 L570.61 49.95 L570.01 49.72 L569.39 49.49 L568.77 49.27 L568.13 49.05 L567.49 48.84 L566.84 48.63 L566.18 48.42 L565.51 48.22 L564.83 48.02 L564.15 47.82 L563.45 47.63 L562.75 47.44 L562.04 47.26 L561.32 47.08 L560.59 46.90 L559.86 46.73 L559.12 46.56 L558.37 46.39 L557.61 46.23 L556.85 46.07 L556.07 45.91 L555.30 45.76 L554.51 45.61 L553.72 45.46 L552.92 45.32 L552.11 45.18 L551.30 45.04 L550.48 44.90 L549.66 44.77 L548.83 44.64 L547.99 44.52 L547.15 44.39 L546.30 44.27 L545.44 44.15 L544.58 44.04 L543.72 43.92 L542.84 43.81 L541.97 43.70 L541.09 43.60 L540.20 43.49 L539.31 43.39 L538.41 43.29 L537.51 43.19 L536.60 43.10 L535.69 43.00 L534.78 42.91 L533.85 42.82 L532.93 42.74 L532.00 42.65 L531.07 42.57 L530.13 42.49 L529.19 42.41 L528.24 42.33 L527.30 42.26 L526.34 42.18 L525.39 42.11 L524.43 42.04 L523.46 41.97 L522.50 41.90 L521.52 41.84 L520.55 41.77 L519.57 41.71 L518.59 41.65 L517.61 41.59 L516.62 41.53 L515.63 41.47 L514.64 41.41 L513.64 41.36 L512.65 41.31 L511.65 41.25 L510.64 41.20 L509.64 41.15 L508.63 41.10 L507.62 41.06 L506.60 41.01 L505.59 40.96 L504.57 40.92 L503.55 40.88 L502.52 40.83 L501.50 40.79 L500.47 40.75 L499.44 40.71 L498.41 40.67 L497.38 40.64 L496.34 40.60 L495.30 40.57 L494.26 40.53 L493.22 40.50 L492.18 40.46 L491.13 40.43 L490.09 40.40 L489.04 40.37 L487.99 40.34 L486.94 40.31 L485.89 40.28 L484.83 40.25 L483.78 40.22 L482.72 40.20 L481.66 40.17 L480.60 40.15 L479.54 40.12 L478.48 40.10 L477.41 40.07 L476.35 40.05 L475.28 40.03 L474.21 40.00 L473.14 39.98 L472.07 39.96 L471.00 39.94 L469.93 39.92 L468.86 39.90 L467.78 39.88 L466.71 39.86 L465.63 39.85 L464.56 39.83 L463.48 39.81 L462.40 39.79 L461.32 39.78 L460.24 39.76 L459.16 39.75 L458.07 39.73 L456.99 39.72 L455.91 39.70 L454.82 39.69 L453.74 39.67 L452.65 39.66 L451.56 39.65 L450.47 39.63 L449.39 39.62 L448.30 39.61 L447.21 39.60 L446.12 39.59 L445.03 39.57 L443.93 39.56 L442.84 39.55 L441.75 39.54 L440.66 39.53 L439.56 39.52 L438.47 39.51 L437.37 39.50 L436.28 39.49 L435.18 39.48 L434.08 39.48 L432.99 39.47 L431.89 39.46 L430.79 39.45 L429.69 39.44 L428.59 39.43 L427.50 39.43 L426.40 39.42 L425.30 39.41 L424.20 39.40 L423.09 39.40 L421.99 39.39 L420.89 39.38 L419.79 39.38 L418.69 39.37 L417.58 39.37 L416.48 39.36 L415.38 39.35 L414.28 39.35 L413.17 39.34 L412.07 39.34 L410.96 39.33 L409.86 39.33 L408.75 39.32 L407.65 39.32 L406.54 39.31 L405.44 39.31 L404.33 39.30 L403.22 39.30 L402.12 39.29 L401.01 39.29 L399.90 39.28 L398.80 39.28 L397.69 39.28 L396.58 39.27 L395.47 39.27 L394.37 39.27 L393.26 39.26 L392.15 39.26 L391.04 39.26 L389.93 39.25 L388.82 39.25 L387.71 39.25 L386.60 39.24 L385.49 39.24 L384.38 39.24 L383.27 39.23 L382.16 39.23 L381.05 39.23 L379.94 39.23 L378.83 39.22 L377.72 39.22 L376.61 39.22 L375.50 39.22 L374.39 39.21 L373.28 39.21 L372.17 39.21 L371.06 39.21 L369.95 39.20 L368.83 39.20 L367.72 39.20 L366.61 39.20 L365.50 39.20 L364.39 39.19 L363.27 39.19 L362.16 39.19 L361.05 39.19 L359.94 39.19 L358.82 39.19 L357.71 39.18 L356.60 39.18 L355.49 39.18 L354.37 39.18 L353.26 39.18 L352.15 39.18 L351.03 39.18 L349.92 39.17 L348.81 39.17 L347.92 39.17" stroke="#000" stroke-width="2.40" stroke-dasharray="2.40 9.46" stroke-dashoffset="9.86"/>
<path d="M58.78 39.12 L61.25 39.12 L63.72 39.12 L66.18 39.12 L68.65 39.12 L71.12 39.12 L73.58 39.12 L76.05 39.12 L78.52 39.12 L80.99 39.12 L83.45 39.12 L85.92 39.12 L88.39 39.12 L90.85 39.12 L93.32 39.12 L95.79 39.12 L98.25 39.12 L100.72 39.12 L103.19 39.12 L105.65 39.12 L108.12 39.12 L110.59 39.12 L113.05 39.12 L115.52 39.12 L117.99 39.12 L120.46 39.12 L122.92 39.12 L125.39 39.12 L127.86 39.12 L130.32 39.12 L132.79 39.12 L135.26 39.12 L137.72 39.12 L140.19 39.12 L142.66 39.12 L145.12 39.12 L147.59 39.12 L150.06 39.12 L152.52 39.12 L154.99 39.12 L157.46 39.12 L159.92 39.12 L162.39 39.12 L164.86 39.12 L167.32 39.12 L169.79 39.12 L172.26 39.12 L174.72 39.12 L177.19 39.12 L179.66 39.12 L182.12 39.12 L184.59 39.12 L187.06 39.12 L189.52 39.12 L191.99 39.12 L194.46 39.12 L196.92 39.12 L199.39 39.12 L201.86 39.12 L204.32 39.12 L206.79 39.12 L209.26 39.13 L211.72 39.13 L214.19 39.13 L216.66 39.13 L219.12 39.13 L221.59 39.13 L224.05 39.13 L226.52 39.13 L228.99 39.13 L231.45 39.13 L233.92 39.13 L236.38 39.13 L238.85 39.13 L241.32 39.13 L243.78 39.13 L246.25 39.13 L248.71 39.13 L251.18 39.13 L253.64 39.13 L256.11 39.13 L258.57 39.13 L261.04 39.14 L263.50 39.14 L265.97 39.14 L268.43 39.14 L270.90 39.14 L273.36 39.14 L275.83 39.14 L278.29 39.14 L280.76 39.14 L283.22 39.14 L285.68 39.15 L288.15 39.15 L290.61 39.15 L293.08 39.15 L295.54 39.15 L298.00 39.15 L300.46 39.16 L302.93 39.16 L305.39 39.16 L307.85 39.16 L310.31 39.17 L312.77 39.17 L315.24 39.17 L317.70 39.17 L320.16 39.18 L322.62 39.18 L325.08 39.18 L327.53 39.19 L329.99 39.19 L332.45 39.19 L334.91 39.20 L337.37 39.20 L339.82 39.21 L342.28 39.21 L344.74 39.22 L347.19 39.22 L349.64 39.23 L352.10 39.23 L354.55 39.24 L357.00 39.25 L359.45 39.25 L361.90 39.26 L364.35 39.27 L366.80 39.28 L369.25 39.29 L371.70 39.30 L374.14 39.31 L376.58 39.32 L379.03 39.33 L381.47 39.34 L383.91 39.35 L386.34 39.37 L388.78 39.38 L391.22 39.40 L393.65 39.41 L396.08 39.43 L398.51 39.44 L400.94 39.46 L403.36 39.48 L405.78 39.50 L408.20 39.52 L410.62 39.55 L413.03 39.57 L415.44 39.60 L417.85 39.62 L420.26 39.65 L422.66 39.68 L425.05 39.71 L427.45 39.75 L429.84 39.78 L432.22 39.82 L434.60 39.86 L436.98 39.90 L439.35 39.94 L441.71 39.99 L444.07 40.04 L446.43 40.09 L448.77 40.14 L451.12 40.20 L453.45 40.26 L455.77 40.33 L458.09 40.39 L460.40 40.46 L462.70 40.54 L465.00 40.62 L467.28 40.70 L469.55 40.79 L471.81 40.88 L474.06 40.98 L476.30 41.09 L478.52 41.20 L480.74 41.31 L482.93 41.43 L485.12 41.56 L487.28 41.70 L489.44 41.84 L491.57 41.99 L493.69 42.15 L495.78 42.32 L497.86 42.50 L499.91 42.69 L501.95 42.88 L503.96 43.09 L505.94 43.31 L507.90 43.54 L509.83 43.78 L511.74 44.04 L513.61 44.31 L515.46 44.59 L517.27 44.89 L519.04 45.20 L520.78 45.53 L522.48 45.88 L524.14 46.25 L525.76 46.63 L527.34 47.03 L528.87 47.46 L530.36 47.91 L531.79 48.37 L533.18 48.87 L534.51 49.38 L535.78 49.92 L536.99 50.49 L538.15 51.09 L539.24 51.71 L540.27 52.37 L541.22 53.05 L542.11 53.77 L542.93 54.52 L543.66 55.31 L544.32 56.13 L544.90 56.98 L545.40 57.88 L545.81 58.81 L546.14 59.78 L546.37 60.80 L546.51 61.85 L546.56 62.95" stroke="#ff0000" stroke-width="2.60"/>
<path d="M449.03 179.49 L449.07 180.45 L449.18 181.37 L449.36 182.27 L449.61 183.14 L449.92 183.97 L450.30 184.77 L450.75 185.55 L451.26 186.29 L451.83 187.01 L452.46 187.70 L453.15 188.37 L453.89 189.01 L454.69 189.62 L455.55 190.21 L456.45 190.78 L457.40 191.32 L458.41 191.85 L459.45 192.35 L460.55 192.83 L461.68 193.29 L462.86 193.73 L464.08 194.16 L465.34 194.56 L466.63 194.95 L467.96 195.32 L469.33 195.68 L470.73 196.02 L472.16 196.35 L473.63 196.66 L475.12 196.96 L476.64 197.25 L478.19 197.52 L479.76 197.79 L481.36 198.04 L482.99 198.28 L484.64 198.50 L486.31 198.72 L488.00 198.93 L489.71 199.13 L491.44 199.32 L493.19 199.51 L494.96 199.68 L496.74 199.85 L498.55 200.01 L500.36 200.16 L502.20 200.30 L504.04 200.44 L505.90 200.58 L507.78 200.70 L509.66 200.82 L511.56 200.94 L513.47 201.05 L515.40 201.15 L517.33 201.25 L519.27 201.35 L521.22 201.44 L523.18 201.53 L525.15 201.61 L527.13 201.69 L529.12 201.76 L531.11 201.84 L533.11 201.90 L535.12 201.97 L537.13 202.03 L539.15 202.09 L541.18 202.15 L543.21 202.20 L545.25 202.26 L547.30 202.30 L549.34 202.35 L551.40 202.40 L553.46 202.44 L555.52 202.48 L557.59 202.52 L559.66 202.56 L561.73 202.59 L563.81 202.63 L565.89 202.66 L567.97 202.69 L570.06 202.72 L572.15 202.75 L574.25 202.77 L576.34 202.80 L578.44 202.82 L580.54 202.84 L582.65 202.87 L584.75 202.89 L586.86 202.91 L588.97 202.93 L591.09 202.95 L593.20 202.96 L595.32 202.98 L597.43 202.99 L599.55 203.01 L601.67 203.02 L603.80 203.04 L605.92 203.05 L608.04 203.06 L610.17 203.07 L612.30 203.09 L614.43 203.10 L616.56 203.11 L618.69 203.12 L620.82 203.13 L622.95 203.13 L625.09 203.14 L627.22 203.15 L629.36 203.16 L631.49 203.17 L633.63 203.17 L635.77 203.18 L637.91 203.19 L640.04 203.19 L642.18 203.20 L644.32 203.20 L646.47 203.21 L648.61 203.21 L650.75 203.22 L652.89 203.22 L655.03 203.23 L657.18 203.23 L659.32 203.24 L661.47 203.24 L663.61 203.24 L665.75 203.25 L667.90 203.25 L670.05 203.25 L672.19 203.26 L674.34 203.26 L676.48 203.26 L678.63 203.26 L680.78 203.27 L682.93 203.27 L685.07 203.27 L687.22 203.27 L689.37 203.27 L691.52 203.28 L693.67 203.28 L695.81 203.28 L697.96 203.28 L700.11 203.28 L702.26 203.29 L704.41 203.29 L706.56 203.29 L708.71 203.29 L710.86 203.29 L713.01 203.29 L715.16 203.29 L717.31 203.29 L719.46 203.29 L721.61 203.30 L723.76 203.30 L725.91 203.30 L728.06 203.30 L730.21 203.30 L732.36 203.30 L734.51 203.30 L736.66 203.30 L738.81 203.30 L740.96 203.30 L743.12 203.30 L745.27 203.30 L747.42 203.30 L749.57 203.31 L751.72 203.31 L753.87 203.31 L756.02 203.31 L758.17 203.31 L760.33 203.31 L762.48 203.31 L764.63 203.31 L766.78 203.31 L768.93 203.31 L771.08 203.31 L773.24 203.31 L775.39 203.31 L777.54 203.31 L779.69 203.31 L781.84 203.31 L783.99 203.31 L786.15 203.31 L788.30 203.31 L790.45 203.31 L792.60 203.31 L794.75 203.31 L796.91 203.31 L799.06 203.31 L801.21 203.31 L803.36 203.31 L805.51 203.31 L807.67 203.31 L809.82 203.31 L811.97 203.31 L814.12 203.31 L816.27 203.31 L818.43 203.31 L820.58 203.31 L822.73 203.31 L824.88 203.31 L827.04 203.31 L829.19 203.31 L831.34 203.31 L833.49 203.31 L835.64 203.31 L837.80 203.31 L839.95 203.31 L842.10 203.31 L844.25 203.31 L846.41 203.31 L848.56 203.31 L850.71 203.31 L852.86 203.31 L855.01 203.31 L857.17 203.31 L859.32 203.31 L861.47 203.31 L863.62 203.31 L865.78 203.31 L867.93 203.31 L870.08 203.31 L872.23 203.32 L874.38 203.32 L876.54 203.32 L878.69 203.32 L880.84 203.32 L882.99 203.32 L885.15 203.32 L887.30 203.32 L889.45 203.32 L891.60 203.32 L893.76 203.32 L895.91 203.32 L898.06 203.32 L900.21 203.32 L902.37 203.32 L904.52 203.32 L906.67 203.32 L908.82 203.32 L910.97 203.32 L913.13 203.32 L915.28 203.32 L917.43 203.32 L919.58 203.32 L921.74 203.32 L923.89 203.32 L926.04 203.32 L928.19 203.32 L930.35 203.32 L932.50 203.32 L934.65 203.32 L936.80 203.32 L938.96 203.32 L941.11 203.32 L943.26 203.32 L945.41 203.32 L947.56 203.32 L949.72 203.32 L951.87 203.32 L954.02 203.32 L956.17 203.32 L958.33 203.32 L960.48 203.32 L962.63 203.32 L964.78 203.32 L966.94 203.32 L969.09 203.32 L971.24 203.32 L973.39 203.32 L975.55 203.32 L977.70 203.32 L979.85 203.32 L982.00 203.32 L984.16 203.32 L986.31 203.32 L988.46 203.32 L990.61 203.32 L992.76 203.32 L994.92 203.32 L997.07 203.32 L999.22 203.32 L1001.37 203.32 L1003.53 203.32 L1005.68 203.32 L1007.83 203.32 L1009.98 203.32 L1012.14 203.32 L1014.29 203.32 L1016.44 203.32 L1018.59 203.32 L1020.75 203.32 L1022.90 203.32 L1025.05 203.32 L1027.20 203.32 L1029.36 203.32 L1031.51 203.32 L1033.66 203.32 L1035.81 203.32 L1037.96 203.32 L1040.12 203.32" stroke="#ff0000" stroke-width="2.60"/>
<path d="M546.56 62.95 L546.55 63.44 L546.53 63.94 L546.48 64.44 L546.42 64.96 L546.33 65.48 L546.23 66.01 L546.11 66.55 L545.97 67.10 L545.81 67.65 L545.64 68.22 L545.44 68.79 L545.22 69.38 L544.99 69.97 L544.73 70.57 L544.46 71.18 L544.16 71.80 L543.85 72.43 L543.52 73.06 L543.16 73.71 L542.79 74.36 L542.40 75.02 L541.98 75.70 L541.55 76.38 L541.10 77.07 L540.63 77.77 L540.14 78.48 L539.63 79.19 L539.10 79.92 L538.55 80.65 L537.98 81.39 L537.39 82.15 L536.79 82.91 L536.16 83.67 L535.52 84.45 L534.86 85.24 L534.18 86.03 L533.48 86.83 L532.77 87.64 L532.03 88.46 L531.28 89.28 L530.52 90.12 L529.73 90.96 L528.93 91.81 L528.12 92.66 L527.29 93.52 L526.44 94.39 L525.58 95.27 L524.70 96.15 L523.81 97.04 L522.91 97.94 L521.99 98.84 L521.06 99.74 L520.12 100.66 L519.16 101.58 L518.20 102.50 L517.22 103.43 L516.23 104.36 L515.23 105.30 L514.23 106.24 L513.21 107.19 L512.18 108.14 L511.15 109.09 L510.11 110.05 L509.06 111.01 L508.01 111.98 L506.95 112.94 L505.89 113.91 L504.82 114.88 L503.74 115.85 L502.67 116.83 L501.59 117.80 L500.51 118.78 L499.42 119.75 L498.34 120.73 L497.26 121.71 L496.17 122.68 L495.09 123.66 L494.01 124.64 L492.93 125.61 L491.85 126.58 L490.78 127.56 L489.71 128.53 L488.65 129.49 L487.59 130.46 L486.53 131.42 L485.49 132.38 L484.45 133.34 L483.41 134.30 L482.39 135.25 L481.37 136.19 L480.36 137.14 L479.37 138.07 L478.38 139.01 L477.40 139.94 L476.43 140.86 L475.48 141.78 L474.54 142.69 L473.61 143.60 L472.69 144.50 L471.78 145.40 L470.89 146.28 L470.02 147.17 L469.16 148.04 L468.31 148.91 L467.48 149.78 L466.66 150.63 L465.86 151.48 L465.08 152.32 L464.31 153.15 L463.56 153.98 L462.83 154.80 L462.12 155.60 L461.42 156.41 L460.74 157.20 L460.08 157.99 L459.43 158.76 L458.81 159.53 L458.20 160.29 L457.62 161.04 L457.05 161.78 L456.50 162.52 L455.97 163.24 L455.46 163.96 L454.97 164.67 L454.50 165.37 L454.04 166.06 L453.61 166.74 L453.20 167.41 L452.81 168.07 L452.43 168.73 L452.08 169.37 L451.75 170.01 L451.43 170.64 L451.14 171.26 L450.86 171.87 L450.61 172.47 L450.37 173.06 L450.16 173.64 L449.96 174.22 L449.78 174.78 L449.62 175.34 L449.49 175.89 L449.36 176.43 L449.26 176.96 L449.18 177.48 L449.12 177.99 L449.07 178.50 L449.04 179.00 L449.03 179.49" stroke="#ff0000" stroke-width="1.3" stroke-dasharray="9.5 4.7"/>
</g>
<g clip-path="url(#clc)" fill="none" stroke-linejoin="round">
<rect x="96.46" y="288.00" width="97.60" height="201.80" fill="#bebebe"/>
<path d="M-294.08 533.56 L-260.32 528.07 L-226.56 522.58 L-192.81 517.08 L-159.05 511.59 L-125.29 506.10 L-91.54 500.61 L-57.78 495.12 L-24.02 489.63 L9.73 484.14 L43.49 478.65 L77.24 473.16 L111.00 467.66 L144.76 462.17 L178.51 456.68 L212.27 451.19 L246.03 445.70 L279.78 440.21 L313.54 434.72 L347.30 429.23 L381.05 423.73 L414.81 418.24 L448.57 412.75 L482.32 407.26 L516.08 401.77 L549.84 396.28 L583.59 390.79 L617.35 385.30 L651.11 379.81 L684.86 374.31 L718.62 368.82 L752.38 363.33 L786.13 357.84 L819.89 352.35 L853.65 346.86 L887.40 341.37 L921.16 335.88 L954.92 330.39 L988.67 324.89 L1022.43 319.40 L1056.19 313.91 L1089.94 308.42 L1123.70 302.93 L1157.46 297.44 L1191.21 291.95 L1224.97 286.46 L1258.73 280.96 L1292.48 275.47 L1326.24 269.98 L1360.00 264.49" stroke="#000" stroke-width="2.60"/>
<path d="M322.33 376.10 L321.41 376.28 L320.49 376.46 L319.57 376.64 L318.65 376.82 L317.74 376.99 L316.83 377.17 L315.92 377.35 L315.01 377.53 L314.11 377.71 L313.20 377.89 L312.30 378.07 L311.40 378.25 L310.51 378.44 L309.61 378.62 L308.72 378.80 L307.83 378.98 L306.95 379.16 L306.06 379.35 L305.18 379.53 L304.30 379.72 L303.42 379.90 L302.55 380.09 L301.68 380.27 L300.81 380.46 L299.95 380.64 L299.08 380.83 L298.22 381.02 L297.37 381.21 L296.51 381.39 L295.67 381.58 L294.82 381.77 L293.98 381.96 L293.14 382.15 L292.30 382.35 L291.47 382.54 L290.64 382.73 L289.81 382.92 L288.99 383.12 L288.17 383.31 L287.36 383.50 L286.54 383.70 L285.74 383.90 L284.93 384.09 L284.14 384.29 L283.34 384.49 L282.55 384.69 L281.77 384.89 L280.98 385.09 L280.21 385.29 L279.43 385.49 L278.67 385.69 L277.90 385.89 L277.15 386.10 L276.39 386.30 L275.64 386.51 L274.90 386.71 L274.16 386.92 L273.43 387.13 L272.70 387.34 L271.98 387.55 L271.26 387.76 L270.55 387.97 L269.84 388.18 L269.14 388.40 L268.45 388.61 L267.76 388.82 L267.07 389.04 L266.40 389.26 L265.73 389.48 L265.06 389.69 L264.40 389.91 L263.75 390.14 L263.10 390.36 L262.47 390.58 L261.83 390.81 L261.21 391.03 L260.59 391.26 L259.98 391.49 L259.37 391.71 L258.77 391.94 L258.18 392.17 L257.60 392.41 L257.02 392.64 L256.45 392.87 L255.89 393.11 L255.33 393.35 L254.78 393.59 L254.24 393.83 L253.71 394.07 L253.19 394.31 L252.67 394.55 L252.16 394.80 L251.66 395.04 L251.17 395.29 L250.68 395.54 L250.21 395.79 L249.74 396.04 L249.28 396.29 L248.83 396.54 L248.39 396.80 L247.95 397.06 L247.52 397.31 L247.11 397.57 L246.70 397.83 L246.29 398.10 L245.90 398.36 L245.52 398.62 L245.14 398.89 L244.78 399.16 L244.42 399.43 L244.07 399.70 L243.73 399.97 L243.40 400.24 L243.07 400.52 L242.76 400.79 L242.45 401.07 L242.16 401.35 L241.87 401.63 L241.59 401.91 L241.32 402.19 L241.05 402.48 L240.80 402.76 L240.55 403.05 L240.31 403.34 L240.09 403.63 L239.86 403.92 L239.65 404.21 L239.45 404.51 L239.25 404.80 L239.06 405.10 L238.88 405.40 L238.71 405.70 L238.54 406.00 L238.38 406.30 L238.23 406.60 L238.09 406.90 L237.96 407.21 L237.83 407.52 L237.70 407.82 L237.59 408.13 L237.48 408.44 L237.38 408.75 L237.28 409.06 L237.20 409.38 L237.11 409.69 L237.04 410.01 L236.96 410.32 L236.90 410.64 L236.84 410.95 L236.78 411.27 L236.73 411.59 L236.68 411.91 L236.64 412.23 L236.61 412.55 L236.57 412.88 L236.54 413.20 L236.52 413.52 L236.50 413.84 L236.48 414.17 L236.46 414.49 L236.45 414.82 L236.44 415.14 L236.43 415.47 L236.42 415.80 L236.41 416.12 L236.41 416.45 L236.41 416.78 L236.41 417.10 L236.41 417.43 L236.41 417.76 L236.41 418.08 L236.41 418.41 L236.41 418.74 L236.40 419.07 L236.40 419.39 L236.40 419.72 L236.40 420.05 L236.39 420.37 L236.38 420.70 L236.37 421.02 L236.36 421.35 L236.35 421.67 L236.33 422.00 L236.31 422.32 L236.29 422.65 L236.26 422.97 L236.23 423.29 L236.20 423.61 L236.16 423.93 L236.12 424.25 L236.07 424.57 L236.02 424.89 L235.96 425.21 L235.90 425.53 L235.83 425.84 L235.76 426.16 L235.68 426.47 L235.60 426.79 L235.51 427.10 L235.41 427.41 L235.31 427.72 L235.20 428.03 L235.08 428.34 L234.96 428.65 L234.83 428.95 L234.69 429.26 L234.55 429.56 L234.40 429.86 L234.24 430.17 L234.07 430.47 L233.90 430.76 L233.71 431.06 L233.52 431.36 L233.32 431.65 L233.12 431.95 L232.90 432.24 L232.68 432.53 L232.45 432.82 L232.21 433.11 L231.96 433.40 L231.71 433.68 L231.44 433.97 L231.17 434.25 L230.89 434.53 L230.60 434.81 L230.30 435.09 L229.99 435.37 L229.67 435.64 L229.35 435.92 L229.01 436.19 L228.67 436.46 L228.32 436.73 L227.96 437.00 L227.59 437.27 L227.22 437.53 L226.83 437.80 L226.44 438.06 L226.03 438.32 L225.62 438.58 L225.20 438.84 L224.77 439.10 L224.34 439.35 L223.89 439.61 L223.44 439.86 L222.98 440.11 L222.51 440.37 L222.03 440.62 L221.54 440.86 L221.05 441.11 L220.55 441.36 L220.04 441.60 L219.52 441.84 L218.99 442.08 L218.46 442.32 L217.92 442.56 L217.37 442.80 L216.81 443.04 L216.25 443.27 L215.68 443.51 L215.10 443.74 L214.51 443.97 L213.92 444.20 L213.32 444.43 L212.71 444.66 L212.10 444.89 L211.48 445.12 L210.85 445.34 L210.22 445.57 L209.58 445.79 L208.93 446.01 L208.28 446.23 L207.62 446.45 L206.95 446.67 L206.28 446.89 L205.60 447.11 L204.92 447.32 L204.23 447.54 L203.53 447.75 L202.83 447.96 L202.12 448.18 L201.41 448.39 L200.69 448.60 L199.97 448.81 L199.24 449.01 L198.50 449.22 L197.76 449.43 L197.02 449.64 L196.27 449.84 L195.51 450.05 L194.76 450.25 L193.99 450.45 L193.22 450.65 L192.45 450.86 L191.67 451.06 L190.89 451.26 L190.10 451.46 L189.31 451.65 L188.52 451.85 L187.72 452.05 L186.91 452.25 L186.11 452.44 L185.29 452.64 L184.48 452.83 L183.66 453.03 L182.84 453.22 L182.01 453.41 L181.18 453.60 L180.35 453.80 L179.51 453.99 L178.67 454.18 L177.82 454.37 L176.98 454.56 L176.13 454.75 L175.27 454.93 L174.42 455.12 L173.56 455.31 L172.69 455.50 L171.83 455.68 L170.96 455.87 L170.09 456.05 L169.21 456.24 L168.34 456.42 L167.46 456.61 L166.57 456.79 L165.69 456.97 L164.80 457.16 L163.91 457.34 L163.02 457.52 L162.13 457.70 L161.23 457.88 L160.33 458.07 L159.43 458.25 L158.52 458.43 L157.62 458.61 L156.71 458.79 L155.80 458.97 L154.89 459.14 L153.97 459.32 L153.06 459.50 L152.14 459.68 L151.22 459.86 L150.30 460.03 L149.38 460.21 L148.45 460.39 L147.52 460.56 L146.60 460.74 L145.67 460.92 L144.73 461.09 L143.80 461.27 L142.87 461.44 L141.93 461.62 L140.99 461.79 L140.05 461.97 L139.11 462.14 L138.17 462.31 L137.23 462.49 L136.28 462.66 L135.34 462.84 L134.39 463.01 L133.44 463.18 L132.49 463.35 L131.54 463.53 L130.59 463.70 L129.63 463.87 L128.68 464.04 L127.72 464.21 L126.77 464.39 L125.81 464.56 L124.85 464.73 L123.89 464.90 L122.93 465.07 L121.97 465.24 L121.00 465.41 L120.04 465.58 L119.08 465.75 L118.11 465.92 L117.14 466.09 L116.18 466.26 L115.21 466.43 L114.24 466.60 L113.27 466.77 L112.30 466.94 L111.33 467.11 L110.36 467.28 L109.38 467.45 L108.41 467.62 L107.43 467.79 L106.46 467.96 L105.48 468.12 L104.51 468.29 L103.53 468.46 L102.55 468.63 L101.58 468.80 L100.60 468.96 L99.62 469.13 L98.64 469.30 L97.66 469.47 L96.68 469.64 L95.69 469.80 L94.71 469.97 L93.73 470.14 L92.75 470.31 L91.76 470.47 L90.78 470.64 L89.79 470.81 L88.81 470.97 L87.82 471.14 L86.84 471.31 L85.85 471.47 L84.86 471.64 L83.88 471.81 L82.89 471.97 L81.90 472.14 L80.91 472.31 L79.92 472.47 L78.94 472.64 L77.95 472.81 L76.96 472.97 L75.97 473.14 L74.98 473.30 L73.98 473.47 L72.99 473.64 L72.00 473.80 L71.01 473.97 L70.02 474.13 L69.02 474.30 L68.03 474.47 L67.04 474.63 L66.05 474.80 L65.05 474.96 L64.06 475.13 L63.06 475.29 L62.07 475.46 L61.07 475.63 L60.08 475.79 L59.08 475.96 L58.09 476.12 L57.09 476.29 L56.10 476.45 L55.10 476.62 L54.11 476.78 L53.11 476.95 L52.11 477.11 L51.12 477.28 L50.12 477.44 L49.12 477.61 L48.12 477.77 L47.13 477.94 L46.13 478.10 L45.13 478.27 L44.13 478.43 L43.13 478.60 L42.13 478.76 L41.14 478.93 L40.14 479.09 L39.14 479.26 L38.14 479.42 L37.14 479.59 L36.14 479.75 L35.14 479.91 L34.14 480.08 L33.14 480.24 L32.14 480.41 L31.14 480.57 L30.14 480.74 L29.14 480.90 L28.14 481.07 L27.14 481.23 L26.14 481.40 L25.14 481.56 L24.14 481.72 L23.14 481.89 L22.13 482.05 L21.13 482.22 L20.13 482.38 L19.13 482.55 L18.13 482.71 L17.13 482.87 L16.13 483.04 L15.12 483.20 L14.12 483.37 L13.12 483.53 L12.12 483.70 L11.12 483.86 L10.11 484.02 L9.11 484.19 L8.11 484.35 L7.11 484.52 L6.10 484.68 L5.10 484.84 L4.10 485.01 L3.10 485.17 L2.09 485.34 L1.09 485.50 L0.09 485.67 L-0.92 485.83 L-1.92 485.99 L-2.92 486.16 L-3.93 486.32 L-4.73 486.45" stroke="#000" stroke-width="2.40" stroke-dasharray="2.40 9.46" stroke-dashoffset="9.13"/>
<path d="M-294.08 533.56 L-291.61 533.16 L-289.14 532.75 L-286.67 532.35 L-284.20 531.95 L-281.73 531.55 L-279.27 531.15 L-276.80 530.75 L-274.33 530.35 L-271.86 529.94 L-269.39 529.54 L-266.92 529.14 L-264.45 528.74 L-261.98 528.34 L-259.52 527.94 L-257.05 527.53 L-254.58 527.13 L-252.11 526.73 L-249.64 526.33 L-247.17 525.93 L-244.70 525.53 L-242.23 525.12 L-239.77 524.72 L-237.30 524.32 L-234.83 523.92 L-232.36 523.52 L-229.89 523.12 L-227.42 522.71 L-224.95 522.31 L-222.49 521.91 L-220.02 521.51 L-217.55 521.11 L-215.08 520.71 L-212.61 520.31 L-210.14 519.90 L-207.67 519.50 L-205.20 519.10 L-202.74 518.70 L-200.27 518.30 L-197.80 517.90 L-195.33 517.49 L-192.86 517.09 L-190.39 516.69 L-187.92 516.29 L-185.46 515.89 L-182.99 515.49 L-180.52 515.08 L-178.05 514.68 L-175.58 514.28 L-173.11 513.88 L-170.64 513.48 L-168.18 513.08 L-165.71 512.67 L-163.24 512.27 L-160.77 511.87 L-158.30 511.47 L-155.83 511.07 L-153.37 510.67 L-150.90 510.26 L-148.43 509.86 L-145.96 509.46 L-143.49 509.06 L-141.02 508.66 L-138.56 508.26 L-136.09 507.85 L-133.62 507.45 L-131.15 507.05 L-128.68 506.65 L-126.22 506.25 L-123.75 505.85 L-121.28 505.44 L-118.81 505.04 L-116.34 504.64 L-113.88 504.24 L-111.41 503.84 L-108.94 503.43 L-106.47 503.03 L-104.01 502.63 L-101.54 502.23 L-99.07 501.83 L-96.61 501.43 L-94.14 501.02 L-91.67 500.62 L-89.20 500.22 L-86.74 499.82 L-84.27 499.42 L-81.80 499.01 L-79.34 498.61 L-76.87 498.21 L-74.41 497.81 L-71.94 497.41 L-69.47 497.00 L-67.01 496.60 L-64.54 496.20 L-62.08 495.80 L-59.61 495.40 L-57.15 494.99 L-54.68 494.59 L-52.22 494.19 L-49.75 493.79 L-47.29 493.38 L-44.82 492.98 L-42.36 492.58 L-39.90 492.18 L-37.44 491.77 L-34.97 491.37 L-32.51 490.97 L-30.05 490.57 L-27.59 490.16 L-25.13 489.76 L-22.67 489.36 L-20.21 488.95 L-17.75 488.55 L-15.29 488.15 L-12.83 487.75 L-10.37 487.34 L-7.91 486.94 L-5.46 486.53 L-3.00 486.13 L-0.54 485.73 L1.91 485.32 L4.36 484.92 L6.82 484.52 L9.27 484.11 L11.72 483.71 L14.17 483.30 L16.62 482.90 L19.07 482.49 L21.51 482.09 L23.96 481.68 L26.40 481.28 L28.85 480.87 L31.29 480.46 L33.73 480.06 L36.17 479.65 L38.60 479.24 L41.04 478.84 L43.47 478.43 L45.90 478.02 L48.33 477.61 L50.75 477.21 L53.18 476.80 L55.60 476.39 L58.02 475.98 L60.43 475.57 L62.85 475.16 L65.26 474.75 L67.66 474.33 L70.07 473.92 L72.47 473.51 L74.86 473.09 L77.25 472.68 L79.64 472.27 L82.02 471.85 L84.40 471.43 L86.77 471.02 L89.14 470.60 L91.50 470.18 L93.86 469.76 L96.20 469.34 L98.55 468.92 L100.88 468.49 L103.21 468.07 L105.53 467.64 L107.84 467.22 L110.14 466.79 L112.44 466.36 L114.72 465.92 L116.99 465.49 L119.26 465.06 L121.51 464.62 L123.75 464.18 L125.98 463.74 L128.19 463.30 L130.39 462.85 L132.57 462.40 L134.74 461.95 L136.90 461.50 L139.03 461.04 L141.15 460.59 L143.25 460.12 L145.32 459.66 L147.38 459.19 L149.42 458.72 L151.43 458.24 L153.41 457.76 L155.38 457.28 L157.31 456.79 L159.21 456.30 L161.09 455.80 L162.93 455.29 L164.75 454.79 L166.52 454.27 L168.26 453.75 L169.97 453.23 L171.63 452.69 L173.25 452.15 L174.83 451.61 L176.36 451.05 L177.85 450.49 L179.28 449.92 L180.67 449.34 L182.00 448.76 L183.27 448.16 L184.49 447.56 L185.64 446.94 L186.74 446.32 L187.76 445.68 L188.72 445.03 L189.61 444.37 L190.42 443.70 L191.16 443.02 L191.82 442.32 L192.41 441.61 L192.90 440.89 L193.32 440.16 L193.64 439.41 L193.87 438.64 L194.02 437.86 L194.06 437.07" stroke="#ff0000" stroke-width="2.60"/>
<path d="M96.46 369.38 L96.50 368.69 L96.61 368.01 L96.79 367.34 L97.04 366.67 L97.35 366.03 L97.73 365.39 L98.18 364.76 L98.69 364.14 L99.26 363.53 L99.89 362.94 L100.58 362.35 L101.33 361.77 L102.13 361.20 L102.98 360.63 L103.88 360.08 L104.84 359.53 L105.84 359.00 L106.89 358.47 L107.98 357.94 L109.12 357.43 L110.30 356.92 L111.52 356.42 L112.78 355.92 L114.08 355.43 L115.41 354.95 L116.78 354.47 L118.18 354.00 L119.61 353.53 L121.07 353.07 L122.57 352.61 L124.09 352.15 L125.64 351.71 L127.21 351.26 L128.82 350.82 L130.44 350.39 L132.09 349.95 L133.76 349.52 L135.45 349.10 L137.17 348.68 L138.90 348.26 L140.65 347.84 L142.42 347.43 L144.21 347.02 L146.01 346.61 L147.83 346.21 L149.66 345.80 L151.51 345.40 L153.38 345.01 L155.25 344.61 L157.14 344.22 L159.04 343.82 L160.95 343.43 L162.87 343.05 L164.81 342.66 L166.75 342.28 L168.70 341.89 L170.67 341.51 L172.64 341.13 L174.62 340.75 L176.60 340.37 L178.60 340.00 L180.60 339.62 L182.61 339.25 L184.63 338.88 L186.65 338.51 L188.68 338.13 L190.71 337.76 L192.75 337.40 L194.80 337.03 L196.85 336.66 L198.90 336.29 L200.96 335.93 L203.03 335.56 L205.10 335.20 L207.17 334.83 L209.24 334.47 L211.32 334.11 L213.41 333.75 L215.49 333.39 L217.58 333.03 L219.67 332.66 L221.77 332.30 L223.87 331.95 L225.97 331.59 L228.07 331.23 L230.18 330.87 L232.28 330.51 L234.39 330.15 L236.51 329.80 L238.62 329.44 L240.74 329.08 L242.85 328.73 L244.97 328.37 L247.09 328.02 L249.22 327.66 L251.34 327.30 L253.47 326.95 L255.59 326.59 L257.72 326.24 L259.85 325.89 L261.98 325.53 L264.11 325.18 L266.24 324.82 L268.38 324.47 L270.51 324.12 L272.65 323.76 L274.78 323.41 L276.92 323.06 L279.06 322.70 L281.20 322.35 L283.34 322.00 L285.48 321.64 L287.62 321.29 L289.76 320.94 L291.90 320.59 L294.04 320.24 L296.18 319.88 L298.33 319.53 L300.47 319.18 L302.62 318.83 L304.76 318.47 L306.91 318.12 L309.05 317.77 L311.20 317.42 L313.35 317.07 L315.49 316.72 L317.64 316.37 L319.79 316.01 L321.93 315.66 L324.08 315.31 L326.23 314.96 L328.38 314.61 L330.53 314.26 L332.68 313.91 L334.83 313.55 L336.98 313.20 L339.13 312.85 L341.28 312.50 L343.43 312.15 L345.58 311.80 L347.73 311.45 L349.88 311.10 L352.03 310.75 L354.18 310.40 L356.33 310.05 L358.48 309.69 L360.63 309.34 L362.78 308.99 L364.94 308.64 L367.09 308.29 L369.24 307.94 L371.39 307.59 L373.54 307.24 L375.70 306.89 L377.85 306.54 L380.00 306.19 L382.15 305.84 L384.31 305.49 L386.46 305.14 L388.61 304.78 L390.76 304.43 L392.92 304.08 L395.07 303.73 L397.22 303.38 L399.37 303.03 L401.53 302.68 L403.68 302.33 L405.83 301.98 L407.99 301.63 L410.14 301.28 L412.29 300.93 L414.45 300.58 L416.60 300.23 L418.75 299.88 L420.91 299.53 L423.06 299.18 L425.21 298.83 L427.37 298.47 L429.52 298.12 L431.67 297.77 L433.83 297.42 L435.98 297.07 L438.13 296.72 L440.29 296.37 L442.44 296.02 L444.59 295.67 L446.75 295.32 L448.90 294.97 L451.05 294.62 L453.21 294.27 L455.36 293.92 L457.52 293.57 L459.67 293.22 L461.82 292.87 L463.98 292.52 L466.13 292.17 L468.28 291.82 L470.44 291.47 L472.59 291.12 L474.75 290.76 L476.90 290.41 L479.05 290.06 L481.21 289.71 L483.36 289.36 L485.51 289.01 L487.67 288.66 L489.82 288.31 L491.98 287.96 L494.13 287.61 L496.28 287.26 L498.44 286.91 L500.59 286.56 L502.75 286.21 L504.90 285.86 L507.05 285.51 L509.21 285.16 L511.36 284.81 L513.51 284.46 L515.67 284.11 L517.82 283.76 L519.98 283.41 L522.13 283.06 L524.28 282.71 L526.44 282.36 L528.59 282.00 L530.75 281.65 L532.90 281.30 L535.05 280.95 L537.21 280.60 L539.36 280.25 L541.52 279.90 L543.67 279.55 L545.82 279.20 L547.98 278.85 L550.13 278.50 L552.29 278.15 L554.44 277.80 L556.59 277.45 L558.75 277.10 L560.90 276.75 L563.06 276.40 L565.21 276.05 L567.36 275.70 L569.52 275.35 L571.67 275.00 L573.83 274.65 L575.98 274.30 L578.13 273.95 L580.29 273.60 L582.44 273.25 L584.60 272.89 L586.75 272.54 L588.90 272.19 L591.06 271.84 L593.21 271.49 L595.36 271.14 L597.52 270.79 L599.67 270.44 L601.83 270.09 L603.98 269.74 L606.13 269.39 L608.29 269.04 L610.44 268.69 L612.60 268.34 L614.75 267.99 L616.90 267.64 L619.06 267.29 L621.21 266.94 L623.37 266.59 L625.52 266.24 L627.67 265.89 L629.83 265.54 L631.98 265.19 L634.14 264.84 L636.29 264.49 L638.44 264.13 L640.60 263.78 L642.75 263.43 L644.91 263.08 L647.06 262.73 L649.21 262.38 L651.37 262.03 L653.52 261.68 L655.68 261.33 L657.83 260.98 L659.98 260.63 L662.14 260.28 L664.29 259.93 L666.45 259.58 L668.60 259.23 L670.75 258.88 L672.91 258.53 L675.06 258.18 L677.22 257.83 L679.37 257.48 L681.52 257.13 L683.68 256.78 L685.83 256.43 L687.99 256.08" stroke="#ff0000" stroke-width="2.60"/>
<path d="M194.06 437.07 L194.06 436.72 L194.03 436.36 L193.98 436.01 L193.92 435.65 L193.84 435.29 L193.73 434.93 L193.61 434.56 L193.47 434.19 L193.32 433.81 L193.14 433.44 L192.94 433.06 L192.73 432.68 L192.49 432.29 L192.23 431.90 L191.96 431.51 L191.66 431.11 L191.35 430.71 L191.02 430.31 L190.66 429.91 L190.29 429.50 L189.90 429.09 L189.48 428.67 L189.05 428.25 L188.60 427.83 L188.13 427.41 L187.64 426.98 L187.12 426.55 L186.59 426.12 L186.05 425.68 L185.48 425.24 L184.89 424.80 L184.28 424.35 L183.66 423.90 L183.01 423.45 L182.35 422.99 L181.67 422.53 L180.97 422.07 L180.26 421.61 L179.53 421.14 L178.78 420.67 L178.01 420.20 L177.22 419.72 L176.42 419.25 L175.61 418.77 L174.78 418.28 L173.93 417.80 L173.07 417.31 L172.19 416.82 L171.30 416.33 L170.39 415.83 L169.48 415.33 L168.54 414.84 L167.60 414.33 L166.65 413.83 L165.68 413.33 L164.70 412.82 L163.71 412.31 L162.71 411.80 L161.70 411.29 L160.69 410.78 L159.66 410.26 L158.63 409.74 L157.58 409.23 L156.54 408.71 L155.48 408.19 L154.42 407.67 L153.36 407.15 L152.29 406.63 L151.21 406.11 L150.14 405.58 L149.06 405.06 L147.97 404.54 L146.89 404.01 L145.81 403.49 L144.72 402.96 L143.64 402.44 L142.55 401.92 L141.47 401.39 L140.39 400.87 L139.32 400.35 L138.24 399.82 L137.17 399.30 L136.11 398.78 L135.05 398.26 L133.99 397.74 L132.94 397.22 L131.90 396.71 L130.87 396.19 L129.84 395.68 L128.82 395.16 L127.82 394.65 L126.82 394.14 L125.83 393.63 L124.85 393.12 L123.88 392.62 L122.93 392.12 L121.98 391.62 L121.05 391.12 L120.14 390.62 L119.23 390.12 L118.34 389.63 L117.46 389.14 L116.60 388.65 L115.75 388.17 L114.92 387.69 L114.10 387.20 L113.30 386.73 L112.52 386.25 L111.75 385.78 L111.00 385.31 L110.27 384.84 L109.55 384.38 L108.86 383.92 L108.18 383.46 L107.51 383.00 L106.87 382.55 L106.25 382.10 L105.64 381.66 L105.05 381.21 L104.48 380.77 L103.93 380.34 L103.40 379.90 L102.89 379.47 L102.40 379.04 L101.93 378.62 L101.48 378.20 L101.05 377.78 L100.63 377.36 L100.24 376.95 L99.87 376.54 L99.51 376.14 L99.18 375.74 L98.86 375.34 L98.57 374.94 L98.29 374.55 L98.04 374.16 L97.80 373.77 L97.59 373.39 L97.39 373.01 L97.21 372.64 L97.05 372.26 L96.91 371.89 L96.79 371.52 L96.69 371.16 L96.61 370.80 L96.55 370.44 L96.50 370.09 L96.47 369.73 L96.46 369.38" stroke="#ff0000" stroke-width="1.3" stroke-dasharray="9.5 4.7"/>
</g>
<g clip-path="url(#cld)" fill="none" stroke-linejoin="round">
<path d="M409.80 395.96 L678.60 677.48 M409.80 302.12 L678.60 583.64 M409.80 208.29 L678.60 489.80 M409.80 114.45 L678.60 395.96 M409.80 20.61 L678.60 302.12" stroke="#b4b4b4" stroke-width="0.7" stroke-dasharray="7.5 3.2"/>
<path d="M351.51 302.12 L358.83 302.12 L366.14 302.12 L373.46 302.12 L380.77 302.12 L388.09 302.12 L395.40 302.12 L402.71 302.12 L410.03 302.12 L417.34 302.12 L424.66 302.12 L431.97 302.12 L439.29 302.12 L446.60 302.12 L453.91 302.12 L461.23 302.12 L468.54 302.12 L475.86 302.12 L483.17 302.12 L490.49 302.12 L497.80 302.12 L505.11 302.12 L512.43 302.12 L519.74 302.12 L527.06 302.12 L534.37 302.12 L541.69 302.12 L549.00 302.12 L556.31 302.12 L563.63 302.12 L570.94 302.12 L578.26 302.12 L585.57 302.12 L592.89 302.12 L600.20 302.12 L607.51 302.12 L614.83 302.12 L622.14 302.12 L629.46 302.12 L636.77 302.12 L644.09 302.12 L651.40 302.12 L658.71 302.12 L666.03 302.12 L673.34 302.12 L680.66 302.12 L687.97 302.12 L695.29 302.12 L702.60 302.12 L709.91 302.12" stroke="#000" stroke-width="2.60"/>
<path d="M717.47 383.63 L716.94 383.63 L716.41 383.63 L715.88 383.63 L715.35 383.63 L714.82 383.63 L714.29 383.63 L713.76 383.63 L713.24 383.63 L712.71 383.63 L712.18 383.63 L711.65 383.63 L711.12 383.63 L710.59 383.63 L710.06 383.63 L709.53 383.63 L709.01 383.63 L708.48 383.63 L707.95 383.63 L707.42 383.63 L706.89 383.63 L706.36 383.63 L705.83 383.63 L705.30 383.63 L704.77 383.63 L704.25 383.63 L703.72 383.63 L703.19 383.63 L702.66 383.63 L702.13 383.63 L701.60 383.63 L701.07 383.63 L700.54 383.63 L700.01 383.63 L699.49 383.63 L698.96 383.63 L698.43 383.63 L697.90 383.63 L697.37 383.63 L696.84 383.63 L696.31 383.63 L695.78 383.63 L695.25 383.63 L694.73 383.63 L694.20 383.63 L693.67 383.63 L693.14 383.63 L692.61 383.63 L692.08 383.63 L691.55 383.63 L691.02 383.63 L690.50 383.63 L689.97 383.63 L689.44 383.63 L688.91 383.63 L688.38 383.63 L687.85 383.63 L687.32 383.63 L686.79 383.63 L686.26 383.63 L685.74 383.63 L685.21 383.63 L684.68 383.63 L684.15 383.63 L683.62 383.63 L683.09 383.63 L682.56 383.63 L682.03 383.63 L681.50 383.63 L680.98 383.63 L680.45 383.63 L679.92 383.63 L679.39 383.63 L678.86 383.63 L678.33 383.63 L677.80 383.63 L677.27 383.63 L676.75 383.63 L676.22 383.63 L675.69 383.63 L675.16 383.63 L674.63 383.63 L674.10 383.63 L673.57 383.63 L673.04 383.63 L672.51 383.63 L671.99 383.63 L671.46 383.63 L670.93 383.63 L670.40 383.63 L669.87 383.63 L669.34 383.63 L668.81 383.63 L668.28 383.63 L667.75 383.63 L667.23 383.63 L666.70 383.63 L666.17 383.63 L665.64 383.63 L665.11 383.63 L664.58 383.63 L664.05 383.63 L663.52 383.63 L662.99 383.63 L662.47 383.63 L661.94 383.63 L661.41 383.63 L660.88 383.63 L660.35 383.63 L659.82 383.63 L659.29 383.63 L658.76 383.63 L658.24 383.63 L657.71 383.63 L657.18 383.63 L656.65 383.63 L656.12 383.63 L655.59 383.63 L655.06 383.63 L654.53 383.63 L654.00 383.63 L653.48 383.63 L652.95 383.63 L652.42 383.63 L651.89 383.63 L651.36 383.63 L650.83 383.63 L650.30 383.63 L649.77 383.63 L649.24 383.63 L648.72 383.63 L648.19 383.63 L647.66 383.63 L647.13 383.63 L646.60 383.63 L646.07 383.63 L645.54 383.63 L645.01 383.63 L644.48 383.63 L643.96 383.63 L643.43 383.63 L642.90 383.63 L642.37 383.63 L641.84 383.63 L641.31 383.63 L640.78 383.63 L640.25 383.63 L639.73 383.63 L639.20 383.63 L638.67 383.63 L638.14 383.63 L637.61 383.63 L637.08 383.63 L636.55 383.63 L636.02 383.63 L635.49 383.63 L634.97 383.63 L634.44 383.63 L633.91 383.63 L633.38 383.63 L632.85 383.63 L632.32 383.63 L631.79 383.63 L631.26 383.63 L630.73 383.63 L630.21 383.63 L629.68 383.63 L629.15 383.63 L628.62 383.63 L628.09 383.63 L627.56 383.63 L627.03 383.63 L626.50 383.63 L625.97 383.63 L625.45 383.63 L624.92 383.63 L624.39 383.63 L623.86 383.63 L623.33 383.63 L622.80 383.63 L622.27 383.63 L621.74 383.63 L621.21 383.63 L620.68 383.63 L620.16 383.63 L619.63 383.63 L619.10 383.63 L618.57 383.63 L618.04 383.63 L617.51 383.62 L616.98 383.62 L616.45 383.62 L615.92 383.62 L615.39 383.62 L614.87 383.62 L614.34 383.62 L613.81 383.62 L613.28 383.62 L612.75 383.62 L612.22 383.62 L611.69 383.62 L611.16 383.62 L610.63 383.62 L610.10 383.62 L609.57 383.62 L609.05 383.62 L608.52 383.62 L607.99 383.61 L607.46 383.61 L606.93 383.61 L606.40 383.61 L605.87 383.61 L605.34 383.61 L604.81 383.61 L604.28 383.61 L603.75 383.61 L603.22 383.60 L602.69 383.60 L602.16 383.60 L601.63 383.60 L601.10 383.60 L600.57 383.60 L600.04 383.59 L599.51 383.59 L598.98 383.59 L598.46 383.59 L597.93 383.59 L597.39 383.58 L596.86 383.58 L596.33 383.58 L595.80 383.58 L595.27 383.57 L594.74 383.57 L594.21 383.57 L593.68 383.56 L593.15 383.56 L592.62 383.55 L592.09 383.55 L591.56 383.55 L591.03 383.54 L590.50 383.54 L589.97 383.53 L589.43 383.52 L588.90 383.52 L588.37 383.51 L587.84 383.51 L587.31 383.50 L586.77 383.49 L586.24 383.48 L585.71 383.48 L585.18 383.47 L584.64 383.46 L584.11 383.45 L583.58 383.44 L583.04 383.43 L582.51 383.42 L581.97 383.40 L581.44 383.39 L580.90 383.38 L580.37 383.36 L579.83 383.35 L579.29 383.33 L578.76 383.32 L578.22 383.30 L577.68 383.28 L577.15 383.26 L576.61 383.24 L576.07 383.22 L575.53 383.20 L574.99 383.17 L574.45 383.15 L573.90 383.12 L573.36 383.09 L572.82 383.06 L572.28 383.03 L571.73 383.00 L571.19 382.96 L570.64 382.93 L570.09 382.89 L569.54 382.85 L568.99 382.80 L568.44 382.76 L567.89 382.71 L567.34 382.66 L566.78 382.61 L566.23 382.55 L565.67 382.49 L565.11 382.43 L564.55 382.36 L563.99 382.29 L563.42 382.22 L562.86 382.14 L562.29 382.06 L561.72 381.97 L561.15 381.88 L560.57 381.79 L560.00 381.68 L559.42 381.58 L558.84 381.47 L558.25 381.35 L557.66 381.23 L557.07 381.10 L556.48 380.96 L555.88 380.81 L555.28 380.66 L554.67 380.50 L554.07 380.34 L553.45 380.16 L552.84 379.97 L552.21 379.78 L551.59 379.58 L550.96 379.36 L550.32 379.14 L549.68 378.90 L549.03 378.65 L548.38 378.39 L547.72 378.12 L547.05 377.83 L546.38 377.53 L545.70 377.22 L545.02 376.89 L544.32 376.55 L543.62 376.19 L542.91 375.81 L542.20 375.42 L541.47 375.01 L540.74 374.58 L540.00 374.13 L539.25 373.67 L538.49 373.18 L537.72 372.68 L536.94 372.15 L536.15 371.60 L535.35 371.03 L534.54 370.44 L533.71 369.83 L532.88 369.20 L532.04 368.54 L531.19 367.86 L530.32 367.16 L529.45 366.43 L528.56 365.68 L527.66 364.91 L526.75 364.12 L525.83 363.30 L524.90 362.46 L523.96 361.59 L523.01 360.71 L522.05 359.80 L521.08 358.88 L520.10 357.93 L519.11 356.96 L518.11 355.98 L517.10 354.98 L516.09 353.96 L515.06 352.92 L514.04 351.88 L513.00 350.82 L511.96 349.75 L510.92 348.67 L509.87 347.58 L508.81 346.48 L507.76 345.38 L506.70 344.27 L505.65 343.17 L504.59 342.06 L503.53 340.95 L502.48 339.85 L501.42 338.75 L500.37 337.66 L499.32 336.57 L498.28 335.49 L497.24 334.43 L496.21 333.37 L495.19 332.33 L494.17 331.31 L493.16 330.30 L492.15 329.30 L491.16 328.33 L490.17 327.37 L489.20 326.43 L488.23 325.52 L487.27 324.62 L486.33 323.75 L485.39 322.89 L484.47 322.06 L483.55 321.26 L482.65 320.47 L481.76 319.71 L480.87 318.97 L480.00 318.26 L479.14 317.57 L478.30 316.90 L477.46 316.25 L476.63 315.63 L475.82 315.03 L475.01 314.45 L474.22 313.89 L473.43 313.35 L472.66 312.84 L471.89 312.34 L471.13 311.86 L470.39 311.41 L469.65 310.97 L468.92 310.55 L468.20 310.15 L467.49 309.76 L466.78 309.39 L466.09 309.04 L465.40 308.71 L464.71 308.38 L464.04 308.08 L463.37 307.78 L462.71 307.50 L462.05 307.24 L461.40 306.98 L460.76 306.74 L460.12 306.51 L459.48 306.29 L458.85 306.08 L458.23 305.88 L457.61 305.69 L456.99 305.51 L456.38 305.34 L455.78 305.17 L455.17 305.02 L454.57 304.87 L453.98 304.73 L453.39 304.60 L452.80 304.47 L452.21 304.35 L451.63 304.23 L451.05 304.12 L450.47 304.02 L449.89 303.92 L449.32 303.83 L448.75 303.74 L448.18 303.66 L447.61 303.58 L447.05 303.50 L446.48 303.43 L445.92 303.36 L445.36 303.30 L444.80 303.24 L444.25 303.18 L443.69 303.12 L443.14 303.07 L442.59 303.02 L442.03 302.97 L441.48 302.93 L440.94 302.89 L440.39 302.85 L439.84 302.81 L439.29 302.77 L438.75 302.74 L438.20 302.71 L437.66 302.68 L437.12 302.65 L436.58 302.62 L436.04 302.59 L435.49 302.57 L434.95 302.55 L434.42 302.52 L433.88 302.50 L433.34 302.48 L432.80 302.46 L432.26 302.45 L431.73 302.43 L431.19 302.41 L430.65 302.40 L430.12 302.38 L429.58 302.37 L429.05 302.36 L428.51 302.34 L427.98 302.33 L427.44 302.32 L426.91 302.31 L426.38 302.30 L425.84 302.29 L425.31 302.28 L424.78 302.27 L424.24 302.27 L423.71 302.26 L423.18 302.25 L422.65 302.25 L422.12 302.24 L421.58 302.23 L421.05 302.23 L420.52 302.22 L419.99 302.22 L419.46 302.21 L418.93 302.21 L418.40 302.20 L417.87 302.20 L417.33 302.19 L416.80 302.19 L416.27 302.19 L415.74 302.18 L415.21 302.18 L414.68 302.18 L414.26 302.18" stroke="#000" stroke-width="2.40" stroke-dasharray="2.40 9.46" stroke-dashoffset="11.34"/>
<path d="M351.51 302.12 L352.05 302.12 L352.58 302.12 L353.12 302.12 L353.65 302.12 L354.19 302.12 L354.72 302.12 L355.26 302.12 L355.79 302.12 L356.33 302.12 L356.86 302.12 L357.40 302.12 L357.93 302.12 L358.47 302.12 L359.00 302.12 L359.54 302.12 L360.07 302.12 L360.61 302.12 L361.14 302.12 L361.68 302.12 L362.21 302.12 L362.75 302.12 L363.28 302.12 L363.82 302.12 L364.35 302.12 L364.89 302.12 L365.42 302.12 L365.96 302.12 L366.49 302.12 L367.03 302.12 L367.56 302.12 L368.10 302.12 L368.63 302.12 L369.17 302.13 L369.70 302.13 L370.24 302.13 L370.77 302.13 L371.31 302.13 L371.84 302.13 L372.38 302.13 L372.91 302.13 L373.45 302.13 L373.98 302.13 L374.52 302.13 L375.05 302.13 L375.59 302.13 L376.12 302.13 L376.66 302.13 L377.19 302.13 L377.73 302.13 L378.26 302.13 L378.80 302.13 L379.33 302.13 L379.87 302.13 L380.40 302.13 L380.94 302.13 L381.47 302.13 L382.01 302.13 L382.54 302.13 L383.08 302.13 L383.61 302.13 L384.15 302.13 L384.68 302.13 L385.22 302.13 L385.75 302.13 L386.29 302.13 L386.82 302.13 L387.36 302.13 L387.89 302.13 L388.43 302.13 L388.96 302.13 L389.50 302.13 L390.03 302.13 L390.57 302.13 L391.10 302.13 L391.64 302.13 L392.17 302.13 L392.71 302.14 L393.24 302.14 L393.78 302.14 L394.31 302.14 L394.85 302.14 L395.39 302.14 L395.92 302.14 L396.46 302.14 L396.99 302.14 L397.53 302.14 L398.06 302.14 L398.60 302.14 L399.13 302.15 L399.67 302.15 L400.20 302.15 L400.74 302.15 L401.28 302.15 L401.81 302.15 L402.35 302.15 L402.88 302.16 L403.42 302.16 L403.95 302.16 L404.49 302.16 L405.03 302.16 L405.56 302.17 L406.10 302.17 L406.63 302.17 L407.17 302.17 L407.71 302.18 L408.24 302.18 L408.78 302.18 L409.32 302.19 L409.85 302.19 L410.39 302.19 L410.93 302.20 L411.46 302.20 L412.00 302.21 L412.54 302.21 L413.07 302.22 L413.61 302.22 L414.15 302.23 L414.69 302.23 L415.22 302.24 L415.76 302.24 L416.30 302.25 L416.84 302.26 L417.38 302.27 L417.92 302.27 L418.46 302.28 L418.99 302.29 L419.53 302.30 L420.07 302.31 L420.61 302.32 L421.15 302.33 L421.69 302.34 L422.24 302.36 L422.78 302.37 L423.32 302.38 L423.86 302.40 L424.40 302.41 L424.95 302.43 L425.49 302.45 L426.03 302.47 L426.58 302.49 L427.12 302.51 L427.67 302.53 L428.21 302.55 L428.76 302.57 L429.31 302.60 L429.85 302.63 L430.40 302.65 L430.95 302.68 L431.50 302.72 L432.05 302.75 L432.60 302.78 L433.16 302.82 L433.71 302.86 L434.26 302.90 L434.82 302.95 L435.38 302.99 L435.94 303.04 L436.49 303.09 L437.06 303.15 L437.62 303.20 L438.18 303.26 L438.75 303.33 L439.31 303.40 L439.88 303.47 L440.45 303.54 L441.03 303.62 L441.60 303.71 L442.18 303.80 L442.76 303.89 L443.34 303.99 L443.93 304.09 L444.51 304.20 L445.10 304.32 L445.70 304.44 L446.29 304.57 L446.89 304.70 L447.50 304.85 L448.10 305.00 L448.71 305.16 L449.33 305.33 L449.95 305.50 L450.57 305.69 L451.20 305.89 L451.84 306.09 L452.48 306.31 L453.12 306.54 L453.77 306.79 L454.43 307.04 L455.09 307.31 L455.76 307.60 L456.44 307.89 L457.12 308.21 L457.82 308.54 L458.52 308.89 L459.23 309.25 L459.95 309.64 L460.67 310.04 L461.41 310.46 L462.16 310.91 L462.92 311.38 L463.69 311.87 L464.47 312.39 L465.26 312.93 L466.07 313.50 L466.89 314.10 L467.72 314.72 L468.57 315.37 L469.43 316.06 L470.31 316.78 L471.20 317.53 L472.11 318.31 L473.04 319.13 L473.98 319.99 L474.95 320.88 L475.93 321.82 L476.93 322.79 L477.94 323.81 L478.98 324.86 L480.04 325.96" stroke="#ff0000" stroke-width="2.60"/>
<path d="M570.19 442.52 L571.12 443.48 L572.03 444.41 L572.92 445.31 L573.80 446.17 L574.67 447.01 L575.52 447.81 L576.36 448.59 L577.18 449.33 L577.99 450.05 L578.79 450.74 L579.57 451.41 L580.34 452.05 L581.10 452.66 L581.85 453.25 L582.59 453.82 L583.31 454.36 L584.03 454.89 L584.74 455.39 L585.43 455.87 L586.12 456.33 L586.80 456.77 L587.47 457.20 L588.13 457.60 L588.78 457.99 L589.43 458.37 L590.06 458.72 L590.69 459.06 L591.32 459.39 L591.93 459.71 L592.54 460.00 L593.15 460.29 L593.74 460.57 L594.33 460.83 L594.92 461.08 L595.50 461.32 L596.08 461.55 L596.65 461.77 L597.22 461.98 L597.78 462.18 L598.34 462.37 L598.89 462.55 L599.44 462.72 L599.99 462.89 L600.53 463.05 L601.07 463.20 L601.61 463.35 L602.14 463.49 L602.67 463.62 L603.20 463.75 L603.72 463.87 L604.24 463.98 L604.76 464.09 L605.28 464.20 L605.79 464.30 L606.30 464.39 L606.81 464.48 L607.32 464.57 L607.83 464.65 L608.33 464.73 L608.84 464.81 L609.34 464.88 L609.84 464.95 L610.33 465.01 L610.83 465.08 L611.33 465.14 L611.82 465.19 L612.31 465.25 L612.80 465.30 L613.29 465.35 L613.78 465.40 L614.27 465.44 L614.76 465.48 L615.25 465.52 L615.73 465.56 L616.22 465.60 L616.70 465.64 L617.18 465.67 L617.66 465.70 L618.15 465.73 L618.63 465.76 L619.11 465.79 L619.59 465.82 L620.06 465.84 L620.54 465.87 L621.02 465.89 L621.50 465.91 L621.97 465.93 L622.45 465.95 L622.93 465.97 L623.40 465.99 L623.88 466.01 L624.35 466.02 L624.83 466.04 L625.30 466.05 L625.77 466.07 L626.25 466.08 L626.72 466.09 L627.19 466.11 L627.66 466.12 L628.14 466.13 L628.61 466.14 L629.08 466.15 L629.55 466.16 L630.02 466.17 L630.49 466.18 L630.96 466.19 L631.43 466.20 L631.91 466.20 L632.38 466.21 L632.85 466.22 L633.32 466.22 L633.78 466.23 L634.25 466.24 L634.72 466.24 L635.19 466.25 L635.66 466.25 L636.13 466.26 L636.60 466.26 L637.07 466.27 L637.54 466.27 L638.01 466.28 L638.48 466.28 L638.94 466.28 L639.41 466.29 L639.88 466.29 L640.35 466.29 L640.82 466.30 L641.29 466.30 L641.75 466.30 L642.22 466.31 L642.69 466.31 L643.16 466.31 L643.63 466.31 L644.09 466.31 L644.56 466.32 L645.03 466.32 L645.50 466.32 L645.96 466.32 L646.43 466.32 L646.90 466.33 L647.37 466.33 L647.83 466.33 L648.30 466.33 L648.77 466.33 L649.24 466.33 L649.70 466.33 L650.17 466.34 L650.64 466.34 L651.10 466.34 L651.57 466.34 L652.04 466.34 L652.51 466.34 L652.97 466.34 L653.44 466.34 L653.91 466.34 L654.37 466.34 L654.84 466.34 L655.31 466.35 L655.78 466.35 L656.24 466.35 L656.71 466.35 L657.18 466.35 L657.64 466.35 L658.11 466.35 L658.58 466.35 L659.04 466.35 L659.51 466.35 L659.98 466.35 L660.45 466.35 L660.91 466.35 L661.38 466.35 L661.85 466.35 L662.31 466.35 L662.78 466.35 L663.25 466.35 L663.71 466.35 L664.18 466.35 L664.65 466.35 L665.11 466.35 L665.58 466.35 L666.05 466.36 L666.51 466.36 L666.98 466.36 L667.45 466.36 L667.92 466.36 L668.38 466.36 L668.85 466.36 L669.32 466.36 L669.78 466.36 L670.25 466.36 L670.72 466.36 L671.18 466.36 L671.65 466.36 L672.12 466.36 L672.58 466.36 L673.05 466.36 L673.52 466.36 L673.98 466.36 L674.45 466.36 L674.92 466.36 L675.38 466.36 L675.85 466.36 L676.32 466.36 L676.78 466.36 L677.25 466.36 L677.72 466.36 L678.18 466.36 L678.65 466.36 L679.12 466.36 L679.58 466.36 L680.05 466.36 L680.52 466.36 L680.98 466.36 L681.45 466.36 L681.92 466.36 L682.39 466.36 L682.85 466.36 L683.32 466.36 L683.79 466.36 L684.25 466.36 L684.72 466.36 L685.19 466.36 L685.65 466.36 L686.12 466.36 L686.59 466.36 L687.05 466.36 L687.52 466.36 L687.99 466.36 L688.45 466.36 L688.92 466.36 L689.39 466.36 L689.85 466.36 L690.32 466.36 L690.79 466.36 L691.25 466.36 L691.72 466.36 L692.19 466.36 L692.65 466.36 L693.12 466.36 L693.59 466.36 L694.05 466.36 L694.52 466.36 L694.99 466.36 L695.45 466.36 L695.92 466.36 L696.39 466.36 L696.85 466.36 L697.32 466.36 L697.79 466.36 L698.25 466.36 L698.72 466.36 L699.19 466.36 L699.65 466.36 L700.12 466.36 L700.59 466.36 L701.05 466.36 L701.52 466.36 L701.99 466.36 L702.45 466.36 L702.92 466.36 L703.39 466.36 L703.85 466.36 L704.32 466.36 L704.79 466.36 L705.25 466.36 L705.72 466.36 L706.19 466.36 L706.65 466.36 L707.12 466.36 L707.59 466.36 L708.05 466.36 L708.52 466.36 L708.99 466.36 L709.46 466.36 L709.92 466.36 L710.39 466.36 L710.86 466.36 L711.32 466.36 L711.79 466.36 L712.26 466.36 L712.72 466.36 L713.19 466.36 L713.66 466.36 L714.12 466.36 L714.59 466.36 L715.06 466.36 L715.52 466.36 L715.99 466.36 L716.46 466.36 L716.92 466.36 L717.39 466.36 L717.86 466.36 L718.32 466.36 L718.79 466.36 L719.26 466.36 L719.72 466.36 L720.19 466.36 L720.66 466.36 L721.12 466.36" stroke="#ff0000" stroke-width="2.60"/>
<path d="M480.04 325.96 L480.51 326.45 L480.98 326.95 L481.45 327.45 L481.93 327.97 L482.41 328.49 L482.89 329.02 L483.38 329.56 L483.88 330.11 L484.37 330.66 L484.87 331.23 L485.38 331.81 L485.89 332.39 L486.40 332.98 L486.92 333.58 L487.45 334.19 L487.97 334.81 L488.50 335.44 L489.04 336.07 L489.58 336.72 L490.12 337.37 L490.67 338.04 L491.22 338.71 L491.78 339.39 L492.34 340.08 L492.91 340.78 L493.48 341.49 L494.05 342.21 L494.63 342.93 L495.21 343.67 L495.80 344.41 L496.39 345.16 L496.98 345.92 L497.58 346.69 L498.18 347.47 L498.79 348.25 L499.40 349.04 L500.01 349.85 L500.63 350.66 L501.25 351.47 L501.88 352.30 L502.51 353.13 L503.14 353.97 L503.78 354.82 L504.42 355.68 L505.06 356.54 L505.71 357.41 L506.36 358.29 L507.01 359.17 L507.67 360.06 L508.33 360.95 L508.99 361.86 L509.65 362.76 L510.32 363.68 L510.99 364.60 L511.66 365.52 L512.34 366.45 L513.02 367.38 L513.70 368.32 L514.38 369.26 L515.06 370.21 L515.75 371.16 L516.43 372.11 L517.12 373.07 L517.81 374.03 L518.50 375.00 L519.20 375.96 L519.89 376.93 L520.59 377.90 L521.28 378.87 L521.98 379.85 L522.68 380.82 L523.37 381.80 L524.07 382.78 L524.77 383.75 L525.47 384.73 L526.17 385.71 L526.86 386.68 L527.56 387.66 L528.26 388.64 L528.95 389.61 L529.65 390.58 L530.35 391.55 L531.04 392.52 L531.73 393.49 L532.42 394.45 L533.11 395.41 L533.80 396.37 L534.49 397.32 L535.18 398.27 L535.86 399.22 L536.54 400.16 L537.22 401.10 L537.90 402.04 L538.57 402.96 L539.25 403.89 L539.92 404.81 L540.58 405.72 L541.25 406.63 L541.91 407.53 L542.57 408.43 L543.22 409.31 L543.88 410.20 L544.53 411.07 L545.17 411.94 L545.82 412.81 L546.46 413.66 L547.09 414.51 L547.73 415.35 L548.36 416.18 L548.98 417.01 L549.60 417.83 L550.22 418.64 L550.84 419.44 L551.45 420.23 L552.05 421.02 L552.66 421.80 L553.26 422.56 L553.85 423.32 L554.44 424.08 L555.03 424.82 L555.61 425.55 L556.19 426.28 L556.76 427.00 L557.33 427.70 L557.90 428.40 L558.46 429.09 L559.01 429.77 L559.57 430.45 L560.11 431.11 L560.66 431.76 L561.20 432.41 L561.73 433.05 L562.26 433.67 L562.79 434.29 L563.31 434.90 L563.83 435.50 L564.35 436.10 L564.86 436.68 L565.36 437.25 L565.86 437.82 L566.36 438.38 L566.85 438.92 L567.34 439.46 L567.83 439.99 L568.31 440.52 L568.79 441.03 L569.26 441.54 L569.73 442.03 L570.19 442.52" stroke="#ff0000" stroke-width="1.3" stroke-dasharray="9.5 4.7"/>
</g>
<path d="M57.20 93.88 H96.46 M57.20 156.03 H194.06" stroke="#666" stroke-width="0.6" stroke-dasharray="2.4 1.2" fill="none"/>
<path d="M57.20 369.38 H96.46 M57.20 437.07 H194.06" stroke="#666" stroke-width="0.6" stroke-dasharray="2.4 1.2" fill="none"/>
<path d="M570.19 442.52 V489.80 M480.04 325.96 V489.80" stroke="#666" stroke-width="0.6" stroke-dasharray="2.4 1.2" fill="none"/>
<circle cx="96.46" cy="93.88" r="3.30" fill="#ff0000"/>
<circle cx="194.06" cy="156.03" r="3.30" fill="#ff0000"/>
<circle cx="449.03" cy="179.49" r="3.30" fill="#ff0000"/>
<circle cx="546.56" cy="62.95" r="3.30" fill="#ff0000"/>
<circle cx="96.46" cy="369.38" r="3.30" fill="#ff0000"/>
<circle cx="194.06" cy="437.07" r="3.30" fill="#ff0000"/>
<circle cx="570.19" cy="442.52" r="3.30" fill="#ff0000"/>
<circle cx="480.04" cy="325.96" r="3.30" fill="#ff0000"/>
<circle cx="57.20" cy="93.88" r="3.20" fill="#000"/>
<circle cx="57.20" cy="156.03" r="3.20" fill="#000"/>
<circle cx="96.46" cy="226.75" r="3.20" fill="#000"/>
<circle cx="194.06" cy="226.75" r="3.20" fill="#000"/>
<circle cx="449.03" cy="226.75" r="3.20" fill="#000"/>
<circle cx="546.56" cy="226.75" r="3.20" fill="#000"/>
<circle cx="57.20" cy="369.38" r="3.20" fill="#000"/>
<circle cx="57.20" cy="437.07" r="3.20" fill="#000"/>
<circle cx="96.46" cy="489.80" r="3.20" fill="#000"/>
<circle cx="194.06" cy="489.80" r="3.20" fill="#000"/>
<circle cx="570.19" cy="489.80" r="3.20" fill="#000"/>
<circle cx="480.04" cy="489.80" r="3.20" fill="#000"/>
<text transform="translate(1.00 12.00)" font-size="15.50" fill="#000" text-anchor="start" textLength="18.6" lengthAdjust="spacingAndGlyphs">(a)</text>
<text transform="translate(26.00 12.00)" font-size="15.50" fill="#000" text-anchor="start" textLength="16.0" lengthAdjust="spacingAndGlyphs"><tspan font-style="italic">&#969;</tspan><tspan dy="3.0" font-size="11.0" font-style="italic">s</tspan><tspan dy="-3.0" font-size="1">&#8203;</tspan></text>
<text transform="translate(49.40 12.00)" font-size="15.50" fill="#000" text-anchor="start" textLength="40.6" lengthAdjust="spacingAndGlyphs">versus</text>
<text transform="translate(96.60 12.00)" font-size="15.50" fill="#000" text-anchor="start" textLength="15.0" lengthAdjust="spacingAndGlyphs"><tspan font-style="italic">&#963;</tspan><tspan dy="2.5" font-size="11.5" letter-spacing="-0.9">II</tspan><tspan dy="-2.5" font-size="1">&#8203;</tspan></text>
<text transform="translate(354.00 12.00)" font-size="15.50" fill="#000" text-anchor="start" textLength="18.8" lengthAdjust="spacingAndGlyphs">(b)</text>
<text transform="translate(378.70 12.00)" font-size="15.50" fill="#000" text-anchor="start" textLength="17.0" lengthAdjust="spacingAndGlyphs"><tspan font-style="italic">r</tspan><tspan dy="3.0" font-size="11.0" font-style="italic">&#969;</tspan><tspan dy="-3.0" font-size="1">&#8203;</tspan></text>
<text transform="translate(397.30 12.00)" font-size="15.50" fill="#000" text-anchor="start" textLength="58.0" lengthAdjust="spacingAndGlyphs">(<tspan font-style="italic">&#969;</tspan> = <tspan font-style="italic">&#969;</tspan><tspan dy="3.0" font-size="11.0" font-style="italic">s</tspan><tspan dy="-3.0" font-size="1">&#8203;</tspan>)</text>
<text transform="translate(462.30 12.00)" font-size="15.50" fill="#000" text-anchor="start" textLength="40.7" lengthAdjust="spacingAndGlyphs">versus</text>
<text transform="translate(508.70 12.00)" font-size="15.50" fill="#000" text-anchor="start" textLength="16.0" lengthAdjust="spacingAndGlyphs"><tspan font-style="italic">&#963;</tspan><tspan dy="2.5" font-size="11.5" letter-spacing="-0.9">II</tspan><tspan dy="-2.5" font-size="1">&#8203;</tspan></text>
<text transform="translate(1.70 275.20)" font-size="15.50" fill="#000" text-anchor="start" textLength="16.3" lengthAdjust="spacingAndGlyphs">(c)</text>
<text transform="translate(24.20 275.20)" font-size="15.50" fill="#000" text-anchor="start" textLength="14.5" lengthAdjust="spacingAndGlyphs"><tspan font-style="italic">&#949;<tspan dx="-0.4em">&#729;</tspan><tspan dx="0.07em" font-size="1">&#8203;</tspan></tspan><tspan dy="2.5" font-size="11.5" letter-spacing="-0.9">II</tspan><tspan dy="-2.5" font-size="1">&#8203;</tspan></text>
<text transform="translate(40.00 275.20)" font-size="15.50" fill="#000" text-anchor="start" textLength="57.7" lengthAdjust="spacingAndGlyphs">(<tspan font-style="italic">&#969;</tspan> = <tspan font-style="italic">&#969;</tspan><tspan dy="3.0" font-size="11.0" font-style="italic">s</tspan><tspan dy="-3.0" font-size="1">&#8203;</tspan>)</text>
<text transform="translate(106.00 275.20)" font-size="15.50" fill="#000" text-anchor="start" textLength="40.0" lengthAdjust="spacingAndGlyphs">versus</text>
<text transform="translate(152.50 275.20)" font-size="15.50" fill="#000" text-anchor="start" textLength="15.0" lengthAdjust="spacingAndGlyphs"><tspan font-style="italic">&#963;</tspan><tspan dy="2.5" font-size="11.5" letter-spacing="-0.9">II</tspan><tspan dy="-2.5" font-size="1">&#8203;</tspan></text>
<text transform="translate(354.00 275.20)" font-size="15.50" fill="#000" text-anchor="start" textLength="18.8" lengthAdjust="spacingAndGlyphs">(d)</text>
<text transform="translate(378.70 275.20)" font-size="15.50" fill="#000" text-anchor="start" textLength="17.0" lengthAdjust="spacingAndGlyphs"><tspan font-style="italic">r</tspan><tspan dy="3.0" font-size="11.0" font-style="italic">&#969;</tspan><tspan dy="-3.0" font-size="1">&#8203;</tspan></text>
<text transform="translate(397.30 275.20)" font-size="15.50" fill="#000" text-anchor="start" textLength="58.0" lengthAdjust="spacingAndGlyphs">(<tspan font-style="italic">&#969;</tspan> = <tspan font-style="italic">&#969;</tspan><tspan dy="3.0" font-size="11.0" font-style="italic">s</tspan><tspan dy="-3.0" font-size="1">&#8203;</tspan>)</text>
<text transform="translate(462.30 275.20)" font-size="15.50" fill="#000" text-anchor="start" textLength="40.7" lengthAdjust="spacingAndGlyphs">versus</text>
<text transform="translate(507.70 275.20)" font-size="15.50" fill="#000" text-anchor="start" textLength="14.8" lengthAdjust="spacingAndGlyphs"><tspan font-style="italic">&#949;<tspan dx="-0.4em">&#729;</tspan><tspan dx="0.07em" font-size="1">&#8203;</tspan></tspan><tspan dy="2.5" font-size="11.5" letter-spacing="-0.9">II</tspan><tspan dy="-2.5" font-size="1">&#8203;</tspan></text>
<text transform="translate(524.70 275.20)" font-size="15.50" fill="#000" text-anchor="start" textLength="58.0" lengthAdjust="spacingAndGlyphs">(<tspan font-style="italic">&#969;</tspan> = <tspan font-style="italic">&#969;</tspan><tspan dy="3.0" font-size="11.0" font-style="italic">s</tspan><tspan dy="-3.0" font-size="1">&#8203;</tspan>)</text>
<text transform="translate(17.20 51.65)" font-size="16.00" fill="#000" text-anchor="start">10<tspan dy="-5.8" font-size="11.5">2</tspan><tspan dy="5.8" font-size="1">&#8203;</tspan></text>
<text transform="translate(17.20 92.00)" font-size="16.00" fill="#000" text-anchor="start">10<tspan dy="-5.8" font-size="11.5">1</tspan><tspan dy="5.8" font-size="1">&#8203;</tspan></text>
<text transform="translate(17.20 132.35)" font-size="16.00" fill="#000" text-anchor="start">10<tspan dy="-5.8" font-size="11.5">0</tspan><tspan dy="5.8" font-size="1">&#8203;</tspan></text>
<text transform="translate(17.20 172.70)" font-size="16.00" fill="#000" text-anchor="start">10<tspan dy="-5.8" font-size="11.5">&#8722;1</tspan><tspan dy="5.8" font-size="1">&#8203;</tspan></text>
<text transform="translate(17.20 213.05)" font-size="16.00" fill="#000" text-anchor="start">10<tspan dy="-5.8" font-size="11.5">&#8722;2</tspan><tspan dy="5.8" font-size="1">&#8203;</tspan></text>
<text transform="translate(369.80 46.52)" font-size="16.00" fill="#000" text-anchor="start">10<tspan dy="-5.8" font-size="11.5">0</tspan><tspan dy="5.8" font-size="1">&#8203;</tspan></text>
<text transform="translate(369.80 93.43)" font-size="16.00" fill="#000" text-anchor="start">10<tspan dy="-5.8" font-size="11.5">&#8722;1</tspan><tspan dy="5.8" font-size="1">&#8203;</tspan></text>
<text transform="translate(369.80 140.34)" font-size="16.00" fill="#000" text-anchor="start">10<tspan dy="-5.8" font-size="11.5">&#8722;2</tspan><tspan dy="5.8" font-size="1">&#8203;</tspan></text>
<text transform="translate(369.80 187.24)" font-size="16.00" fill="#000" text-anchor="start">10<tspan dy="-5.8" font-size="11.5">&#8722;3</tspan><tspan dy="5.8" font-size="1">&#8203;</tspan></text>
<text transform="translate(369.80 234.15)" font-size="16.00" fill="#000" text-anchor="start">10<tspan dy="-5.8" font-size="11.5">&#8722;4</tspan><tspan dy="5.8" font-size="1">&#8203;</tspan></text>
<text transform="translate(17.20 295.40)" font-size="16.00" fill="#000" text-anchor="start">10<tspan dy="-5.8" font-size="11.5">4</tspan><tspan dy="5.8" font-size="1">&#8203;</tspan></text>
<text transform="translate(17.20 362.67)" font-size="16.00" fill="#000" text-anchor="start">10<tspan dy="-5.8" font-size="11.5">2</tspan><tspan dy="5.8" font-size="1">&#8203;</tspan></text>
<text transform="translate(17.20 429.93)" font-size="16.00" fill="#000" text-anchor="start">10<tspan dy="-5.8" font-size="11.5">0</tspan><tspan dy="5.8" font-size="1">&#8203;</tspan></text>
<text transform="translate(17.20 497.20)" font-size="16.00" fill="#000" text-anchor="start">10<tspan dy="-5.8" font-size="11.5">&#8722;2</tspan><tspan dy="5.8" font-size="1">&#8203;</tspan></text>
<text transform="translate(369.80 309.52)" font-size="16.00" fill="#000" text-anchor="start">10<tspan dy="-5.8" font-size="11.5">0</tspan><tspan dy="5.8" font-size="1">&#8203;</tspan></text>
<text transform="translate(369.80 356.44)" font-size="16.00" fill="#000" text-anchor="start">10<tspan dy="-5.8" font-size="11.5">&#8722;1</tspan><tspan dy="5.8" font-size="1">&#8203;</tspan></text>
<text transform="translate(369.80 403.36)" font-size="16.00" fill="#000" text-anchor="start">10<tspan dy="-5.8" font-size="11.5">&#8722;2</tspan><tspan dy="5.8" font-size="1">&#8203;</tspan></text>
<text transform="translate(369.80 450.28)" font-size="16.00" fill="#000" text-anchor="start">10<tspan dy="-5.8" font-size="11.5">&#8722;3</tspan><tspan dy="5.8" font-size="1">&#8203;</tspan></text>
<text transform="translate(369.80 497.20)" font-size="16.00" fill="#000" text-anchor="start">10<tspan dy="-5.8" font-size="11.5">&#8722;4</tspan><tspan dy="5.8" font-size="1">&#8203;</tspan></text>
<text transform="translate(101.00 248.60)" font-size="16.00" fill="#000" text-anchor="start">10<tspan dy="-5.8" font-size="11.5">&#8722;1</tspan><tspan dy="5.8" font-size="1">&#8203;</tspan></text>
<text transform="translate(306.80 248.60)" font-size="16.00" fill="#000" text-anchor="start">10<tspan dy="-5.8" font-size="11.5">0</tspan><tspan dy="5.8" font-size="1">&#8203;</tspan></text>
<text transform="translate(453.20 248.60)" font-size="16.00" fill="#000" text-anchor="start">10<tspan dy="-5.8" font-size="11.5">&#8722;1</tspan><tspan dy="5.8" font-size="1">&#8203;</tspan></text>
<text transform="translate(659.20 248.60)" font-size="16.00" fill="#000" text-anchor="start">10<tspan dy="-5.8" font-size="11.5">0</tspan><tspan dy="5.8" font-size="1">&#8203;</tspan></text>
<text transform="translate(101.00 511.70)" font-size="16.00" fill="#000" text-anchor="start">10<tspan dy="-5.8" font-size="11.5">&#8722;1</tspan><tspan dy="5.8" font-size="1">&#8203;</tspan></text>
<text transform="translate(306.80 511.70)" font-size="16.00" fill="#000" text-anchor="start">10<tspan dy="-5.8" font-size="11.5">0</tspan><tspan dy="5.8" font-size="1">&#8203;</tspan></text>
<text transform="translate(400.70 511.70)" font-size="16.00" fill="#000" text-anchor="start">10<tspan dy="-5.8" font-size="11.5">&#8722;2</tspan><tspan dy="5.8" font-size="1">&#8203;</tspan></text>
<text transform="translate(486.40 511.70)" font-size="16.00" fill="#000" text-anchor="start">10<tspan dy="-5.8" font-size="11.5">0</tspan><tspan dy="5.8" font-size="1">&#8203;</tspan></text>
<text transform="translate(576.80 511.70)" font-size="16.00" fill="#000" text-anchor="start">10<tspan dy="-5.8" font-size="11.5">2</tspan><tspan dy="5.8" font-size="1">&#8203;</tspan></text>
<text transform="translate(663.10 511.70)" font-size="16.00" fill="#000" text-anchor="start">10<tspan dy="-5.8" font-size="11.5">4</tspan><tspan dy="5.8" font-size="1">&#8203;</tspan></text>
<text transform="translate(200.70 246.20)" font-size="15.50" fill="#000" text-anchor="start" textLength="50.0" lengthAdjust="spacingAndGlyphs"><tspan font-style="italic">&#963;</tspan><tspan dy="2.5" font-size="11.5" letter-spacing="-0.9">II</tspan><tspan dy="-2.5" font-size="1">&#8203;</tspan><tspan font-size="18" dy="1.2" dx="1.2">/</tspan><tspan dy="-1.2" dx="1.2">&#8203;</tspan><tspan font-style="italic">&#963;</tspan><tspan dy="2.8" font-size="10.5">ref</tspan><tspan dy="-2.8" font-size="1">&#8203;</tspan></text>
<text transform="translate(553.10 246.20)" font-size="15.50" fill="#000" text-anchor="start" textLength="50.0" lengthAdjust="spacingAndGlyphs"><tspan font-style="italic">&#963;</tspan><tspan dy="2.5" font-size="11.5" letter-spacing="-0.9">II</tspan><tspan dy="-2.5" font-size="1">&#8203;</tspan><tspan font-size="18" dy="1.2" dx="1.2">/</tspan><tspan dy="-1.2" dx="1.2">&#8203;</tspan><tspan font-style="italic">&#963;</tspan><tspan dy="2.8" font-size="10.5">ref</tspan><tspan dy="-2.8" font-size="1">&#8203;</tspan></text>
<text transform="translate(200.70 509.40)" font-size="15.50" fill="#000" text-anchor="start" textLength="50.0" lengthAdjust="spacingAndGlyphs"><tspan font-style="italic">&#963;</tspan><tspan dy="2.5" font-size="11.5" letter-spacing="-0.9">II</tspan><tspan dy="-2.5" font-size="1">&#8203;</tspan><tspan font-size="18" dy="1.2" dx="1.2">/</tspan><tspan dy="-1.2" dx="1.2">&#8203;</tspan><tspan font-style="italic">&#963;</tspan><tspan dy="2.8" font-size="10.5">ref</tspan><tspan dy="-2.8" font-size="1">&#8203;</tspan></text>
<text transform="translate(496.00 525.00)" font-size="15.50" fill="#000" text-anchor="start" textLength="84.6" lengthAdjust="spacingAndGlyphs"><tspan font-style="italic">&#949;<tspan dx="-0.4em">&#729;</tspan><tspan dx="0.07em" font-size="1">&#8203;</tspan></tspan><tspan dy="2.5" font-size="11.5" letter-spacing="-0.9">II</tspan><tspan dy="-2.5" font-size="1">&#8203;</tspan><tspan font-size="18" dy="1.2" dx="1.2">/</tspan><tspan dy="-1.2" dx="1.2">&#8203;</tspan><tspan font-size="17.5" dy="0.8">(</tspan><tspan dy="-0.8">&#8203;</tspan><tspan font-style="italic">&#963;</tspan><tspan dy="2.8" font-size="10.5">ref</tspan><tspan dy="-2.8" font-size="1">&#8203;</tspan><tspan font-size="18" dy="1.2" dx="1.2">/</tspan><tspan dy="-1.2" dx="1.2">&#8203;</tspan><tspan font-style="italic">&#951;</tspan><tspan dy="3.0" font-size="11.0" font-style="italic">&#957;</tspan><tspan dy="-3.0" font-size="1">&#8203;</tspan><tspan font-size="17.5" dy="0.8">)</tspan><tspan dy="-0.8">&#8203;</tspan></text>
<text transform="translate(1.00 149.40)" font-size="15.50" fill="#000" text-anchor="start" textLength="15.6" lengthAdjust="spacingAndGlyphs"><tspan font-style="italic">&#969;</tspan><tspan dy="3.0" font-size="11.0" font-style="italic">s</tspan><tspan dy="-3.0" font-size="1">&#8203;</tspan></text>
<text transform="translate(363.60 121.30) rotate(-90.00) scale(1.150 1)" font-size="15.50" fill="#000" text-anchor="middle"><tspan font-style="italic">r</tspan><tspan dy="3.0" font-size="11.0" font-style="italic">&#969;</tspan><tspan dy="-3.0" font-size="1">&#8203;</tspan>(<tspan font-style="italic">&#969;</tspan> = <tspan font-style="italic">&#969;</tspan><tspan dy="3.0" font-size="11.0" font-style="italic">s</tspan><tspan dy="-3.0" font-size="1">&#8203;</tspan>)</text>
<text transform="translate(11.60 387.30) rotate(-90.00)" font-size="15.50" fill="#000" text-anchor="middle" textLength="85.0" lengthAdjust="spacingAndGlyphs"><tspan font-style="italic">&#949;<tspan dx="-0.4em">&#729;</tspan><tspan dx="0.07em" font-size="1">&#8203;</tspan></tspan><tspan dy="2.5" font-size="11.5" letter-spacing="-0.9">II</tspan><tspan dy="-2.5" font-size="1">&#8203;</tspan><tspan font-size="18" dy="1.2" dx="1.2">/</tspan><tspan dy="-1.2" dx="1.2">&#8203;</tspan><tspan font-size="17.5" dy="0.8">(</tspan><tspan dy="-0.8">&#8203;</tspan><tspan font-style="italic">&#963;</tspan><tspan dy="2.8" font-size="10.5">ref</tspan><tspan dy="-2.8" font-size="1">&#8203;</tspan><tspan font-size="18" dy="1.2" dx="1.2">/</tspan><tspan dy="-1.2" dx="1.2">&#8203;</tspan><tspan font-style="italic">&#951;</tspan><tspan dy="3.0" font-size="11.0" font-style="italic">&#957;</tspan><tspan dy="-3.0" font-size="1">&#8203;</tspan><tspan font-size="17.5" dy="0.8">)</tspan><tspan dy="-0.8">&#8203;</tspan></text>
<text transform="translate(363.60 384.50) rotate(-90.00) scale(1.150 1)" font-size="15.50" fill="#000" text-anchor="middle"><tspan font-style="italic">r</tspan><tspan dy="3.0" font-size="11.0" font-style="italic">&#969;</tspan><tspan dy="-3.0" font-size="1">&#8203;</tspan>(<tspan font-style="italic">&#969;</tspan> = <tspan font-style="italic">&#969;</tspan><tspan dy="3.0" font-size="11.0" font-style="italic">s</tspan><tspan dy="-3.0" font-size="1">&#8203;</tspan>)</text>
<text transform="translate(60.00 90.00)" font-size="15.50" fill="#000" text-anchor="start" textLength="20.6" lengthAdjust="spacingAndGlyphs"><tspan font-style="italic">&#969;</tspan><tspan dy="3.0" font-size="11.0" font-style="italic">m</tspan><tspan dy="-3.0" font-size="1">&#8203;</tspan></text>
<text transform="translate(60.00 149.40)" font-size="15.50" fill="#000" text-anchor="start" textLength="19.4" lengthAdjust="spacingAndGlyphs"><tspan font-style="italic">&#969;</tspan><tspan dy="3.0" font-size="11.0" font-style="italic">p</tspan><tspan dy="-3.0" font-size="1">&#8203;</tspan></text>
<text transform="translate(107.30 219.50)" font-size="15.50" fill="#000" text-anchor="start" textLength="18.9" lengthAdjust="spacingAndGlyphs"><tspan font-style="italic">&#963;</tspan><tspan dy="3.0" font-size="11.0" font-style="italic">m</tspan><tspan dy="-3.0" font-size="1">&#8203;</tspan></text>
<text transform="translate(197.80 219.50)" font-size="15.50" fill="#000" text-anchor="start" textLength="16.8" lengthAdjust="spacingAndGlyphs"><tspan font-style="italic">&#963;</tspan><tspan dy="3.0" font-size="11.0" font-style="italic">p</tspan><tspan dy="-3.0" font-size="1">&#8203;</tspan></text>
<text transform="translate(100.60 68.50) rotate(-23.00) scale(1.076 1)" font-size="15.50" fill="#ff0000" text-anchor="start">&#8220;damaged&#8221;</text>
<text transform="translate(179.00 62.50) rotate(-23.50) scale(1.060 1)" font-size="15.50" fill="#ff0000" text-anchor="start"><tspan font-style="italic">F</tspan> = 8.06</text>
<text transform="translate(101.00 95.50) rotate(24.00) scale(1.108 1)" font-size="15.50" fill="#ff0000" text-anchor="start">&#8220;<tspan font-style="italic">&#949;<tspan dx="-0.4em">&#729;</tspan><tspan dx="0.07em" font-size="1">&#8203;</tspan></tspan>-softening&#8221;</text>
<text transform="translate(100.50 202.40) rotate(-21.20) scale(1.083 1)" font-size="15.50" fill="#ff0000" text-anchor="start">&#8220;intact&#8221;</text>
<text transform="translate(288.00 92.50) rotate(-24.00) scale(1.070 1)" font-size="15.50" fill="#000" text-anchor="start"><tspan font-style="italic">F</tspan> = 4</text>
<text transform="translate(288.50 159.00) rotate(-24.00) scale(1.070 1)" font-size="15.50" fill="#000" text-anchor="start"><tspan font-style="italic">F</tspan> = 0</text>
<text transform="translate(452.70 219.50)" font-size="15.50" fill="#000" text-anchor="start" textLength="18.9" lengthAdjust="spacingAndGlyphs"><tspan font-style="italic">&#963;</tspan><tspan dy="3.0" font-size="11.0" font-style="italic">m</tspan><tspan dy="-3.0" font-size="1">&#8203;</tspan></text>
<text transform="translate(549.50 219.50)" font-size="15.50" fill="#000" text-anchor="start" textLength="16.7" lengthAdjust="spacingAndGlyphs"><tspan font-style="italic">&#963;</tspan><tspan dy="3.0" font-size="11.0" font-style="italic">p</tspan><tspan dy="-3.0" font-size="1">&#8203;</tspan></text>
<text transform="translate(412.00 56.20) scale(1.120 1)" font-size="15.50" fill="#ff0000" text-anchor="start">&#8220;intact&#8221;</text>
<text transform="translate(459.90 149.10) rotate(-46.00) scale(1.100 1)" font-size="15.50" fill="#ff0000" text-anchor="start">&#8220;<tspan font-style="italic">&#949;<tspan dx="-0.4em">&#729;</tspan><tspan dx="0.07em" font-size="1">&#8203;</tspan></tspan>-softening&#8221;</text>
<text transform="translate(673.00 56.20) scale(1.070 1)" font-size="15.50" fill="#000" text-anchor="end"><tspan font-style="italic">F</tspan> = 0</text>
<text transform="translate(673.00 112.40) scale(1.070 1)" font-size="15.50" fill="#000" text-anchor="end"><tspan font-style="italic">F</tspan> = 4</text>
<text transform="translate(670.00 199.50) scale(1.070 1)" font-size="15.50" fill="#ff0000" text-anchor="end"><tspan font-style="italic">F</tspan> = 8.06</text>
<text transform="translate(669.20 219.50) scale(1.090 1)" font-size="15.50" fill="#ff0000" text-anchor="end">&#8220;damaged&#8221;</text>
<text transform="translate(61.00 361.60)" font-size="15.50" fill="#000" text-anchor="start" textLength="16.8" lengthAdjust="spacingAndGlyphs"><tspan font-style="italic">&#949;<tspan dx="-0.4em">&#729;</tspan><tspan dx="0.07em" font-size="1">&#8203;</tspan></tspan><tspan dy="3.0" font-size="11.0" font-style="italic">m</tspan><tspan dy="-3.0" font-size="1">&#8203;</tspan></text>
<text transform="translate(61.00 428.30)" font-size="15.50" fill="#000" text-anchor="start" textLength="15.0" lengthAdjust="spacingAndGlyphs"><tspan font-style="italic">&#949;<tspan dx="-0.4em">&#729;</tspan><tspan dx="0.07em" font-size="1">&#8203;</tspan></tspan><tspan dy="3.0" font-size="11.0" font-style="italic">p</tspan><tspan dy="-3.0" font-size="1">&#8203;</tspan></text>
<text transform="translate(100.80 482.80)" font-size="15.50" fill="#000" text-anchor="start" textLength="18.9" lengthAdjust="spacingAndGlyphs"><tspan font-style="italic">&#963;</tspan><tspan dy="3.0" font-size="11.0" font-style="italic">m</tspan><tspan dy="-3.0" font-size="1">&#8203;</tspan></text>
<text transform="translate(197.60 482.80)" font-size="15.50" fill="#000" text-anchor="start" textLength="16.7" lengthAdjust="spacingAndGlyphs"><tspan font-style="italic">&#963;</tspan><tspan dy="3.0" font-size="11.0" font-style="italic">p</tspan><tspan dy="-3.0" font-size="1">&#8203;</tspan></text>
<text transform="translate(103.00 348.50) rotate(-10.00) scale(1.076 1)" font-size="15.50" fill="#ff0000" text-anchor="start">&#8220;damaged&#8221;</text>
<text transform="translate(262.80 322.80) rotate(-11.50) scale(1.060 1)" font-size="15.50" fill="#ff0000" text-anchor="start"><tspan font-style="italic">F</tspan> = 8.06</text>
<text transform="translate(103.00 373.00) rotate(28.00) scale(1.100 1)" font-size="15.50" fill="#ff0000" text-anchor="start">&#8220;<tspan font-style="italic">&#949;<tspan dx="-0.4em">&#729;</tspan><tspan dx="0.07em" font-size="1">&#8203;</tspan></tspan>-softening&#8221;</text>
<text transform="translate(103.00 461.00) rotate(-10.00) scale(1.120 1)" font-size="15.50" fill="#ff0000" text-anchor="start">&#8220;intact&#8221;</text>
<text transform="translate(286.00 399.30) rotate(-11.50) scale(1.070 1)" font-size="15.50" fill="#000" text-anchor="start"><tspan font-style="italic">F</tspan> = 4</text>
<text transform="translate(286.00 455.50) rotate(-11.50) scale(1.070 1)" font-size="15.50" fill="#000" text-anchor="start"><tspan font-style="italic">F</tspan> = 0</text>
<text transform="translate(413.00 320.00) rotate(15.00) scale(1.120 1)" font-size="15.50" fill="#ff0000" text-anchor="start">&#8220;intact&#8221;</text>
<text transform="translate(481.30 359.40) rotate(54.00) scale(1.100 1)" font-size="15.50" fill="#ff0000" text-anchor="start">&#8220;<tspan font-style="italic">&#949;<tspan dx="-0.4em">&#729;</tspan><tspan dx="0.07em" font-size="1">&#8203;</tspan></tspan>-softening&#8221;</text>
<text transform="translate(673.00 319.40) scale(1.070 1)" font-size="15.50" fill="#000" text-anchor="end"><tspan font-style="italic">F</tspan> = 0</text>
<text transform="translate(673.00 375.60) scale(1.070 1)" font-size="15.50" fill="#000" text-anchor="end"><tspan font-style="italic">F</tspan> = 4</text>
<text transform="translate(673.00 462.00) scale(1.070 1)" font-size="15.50" fill="#ff0000" text-anchor="end"><tspan font-style="italic">F</tspan> = 8.06</text>
<text transform="translate(675.10 482.10) scale(1.078 1)" font-size="15.50" fill="#ff0000" text-anchor="end">&#8220;damaged&#8221;</text>
<text transform="translate(463.00 482.00)" font-size="15.50" fill="#000" text-anchor="start" textLength="15.0" lengthAdjust="spacingAndGlyphs"><tspan font-style="italic">&#949;<tspan dx="-0.4em">&#729;</tspan><tspan dx="0.07em" font-size="1">&#8203;</tspan></tspan><tspan dy="3.0" font-size="11.0" font-style="italic">p</tspan><tspan dy="-3.0" font-size="1">&#8203;</tspan></text>
<text transform="translate(550.00 482.00)" font-size="15.50" fill="#000" text-anchor="start" textLength="16.4" lengthAdjust="spacingAndGlyphs"><tspan font-style="italic">&#949;<tspan dx="-0.4em">&#729;</tspan><tspan dx="0.07em" font-size="1">&#8203;</tspan></tspan><tspan dy="3.0" font-size="11.0" font-style="italic">m</tspan><tspan dy="-3.0" font-size="1">&#8203;</tspan></text>
</svg></body></html>
